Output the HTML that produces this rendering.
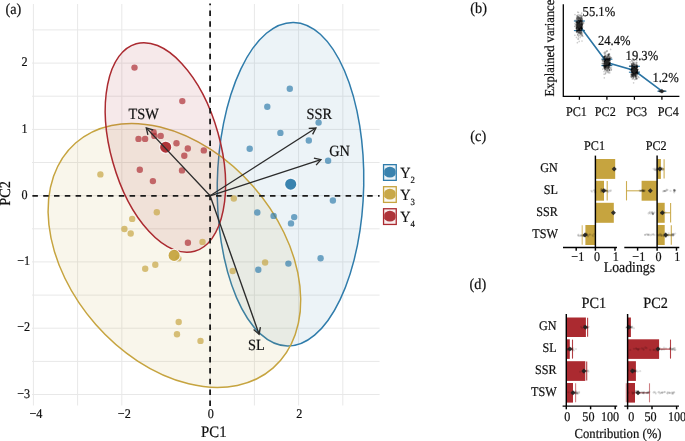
<!DOCTYPE html><html><head><meta charset="utf-8"><title>PCA figure</title><style>html,body{margin:0;padding:0;background:#fff;}svg{display:block;}text{font-family:"Liberation Serif", "DejaVu Serif", serif;fill:#111;stroke:#111;stroke-width:0.22px;text-rendering:geometricPrecision;}</style></head><body>
<svg width="685" height="441" viewBox="0 0 685 441">
<rect width="685" height="441" fill="#fff"/>
<g opacity="0.999">
<g stroke="#e8e8e8" stroke-width="1">
<line x1="33.4" y1="4.0" x2="33.4" y2="405.5"/>
<line x1="77.6" y1="4.0" x2="77.6" y2="405.5"/>
<line x1="121.8" y1="4.0" x2="121.8" y2="405.5"/>
<line x1="210.2" y1="4.0" x2="210.2" y2="405.5"/>
<line x1="254.4" y1="4.0" x2="254.4" y2="405.5"/>
<line x1="298.6" y1="4.0" x2="298.6" y2="405.5"/>
<line x1="342.8" y1="4.0" x2="342.8" y2="405.5"/>
<line x1="32.0" y1="394.5" x2="379.6" y2="394.5"/>
<line x1="32.0" y1="361.4" x2="379.6" y2="361.4"/>
<line x1="32.0" y1="328.2" x2="379.6" y2="328.2"/>
<line x1="32.0" y1="295.1" x2="379.6" y2="295.1"/>
<line x1="32.0" y1="261.9" x2="379.6" y2="261.9"/>
<line x1="32.0" y1="228.8" x2="379.6" y2="228.8"/>
<line x1="32.0" y1="195.7" x2="379.6" y2="195.7"/>
<line x1="32.0" y1="162.5" x2="379.6" y2="162.5"/>
<line x1="32.0" y1="129.4" x2="379.6" y2="129.4"/>
<line x1="32.0" y1="96.2" x2="379.6" y2="96.2"/>
<line x1="32.0" y1="63.1" x2="379.6" y2="63.1"/>
<line x1="32.0" y1="29.9" x2="379.6" y2="29.9"/>
</g>
<ellipse cx="290.5" cy="184.2" rx="161.82" ry="73.25" transform="rotate(91.10 290.5 184.2)" fill="#2f7cab" fill-opacity="0.09" stroke="#2f7cab" stroke-width="1.5"/>
<ellipse cx="174.4" cy="255.4" rx="149.70" ry="104.71" transform="rotate(48.69 174.4 255.4)" fill="#c6a43f" fill-opacity="0.1" stroke="#c6a43f" stroke-width="1.5"/>
<ellipse cx="165.4" cy="147.5" rx="107.83" ry="54.57" transform="rotate(74.29 165.4 147.5)" fill="#ab2a30" fill-opacity="0.1" stroke="#ab2a30" stroke-width="1.5"/>
<line x1="32.4" y1="195.86" x2="379.6" y2="195.86" stroke="#1a1a1a" stroke-width="1.8" stroke-dasharray="5.5 5.3"/>
<line x1="210.10" y1="405.9" x2="210.10" y2="3.5" stroke="#1a1a1a" stroke-width="1.8" stroke-dasharray="5.5 5.33"/>
<g fill="#2f7cab" fill-opacity="0.68">
<circle cx="289.8" cy="88.8" r="3.2"/>
<circle cx="267.3" cy="106.8" r="3.2"/>
<circle cx="280.4" cy="132.9" r="3.2"/>
<circle cx="249.7" cy="148.7" r="3.2"/>
<circle cx="318.6" cy="122.6" r="3.2"/>
<circle cx="308.8" cy="140.5" r="3.2"/>
<circle cx="328.1" cy="160.8" r="3.2"/>
<circle cx="332.9" cy="200.5" r="3.2"/>
<circle cx="257.3" cy="212.5" r="3.2"/>
<circle cx="273.6" cy="215.9" r="3.2"/>
<circle cx="294.2" cy="217.1" r="3.2"/>
<circle cx="291.0" cy="223.4" r="3.2"/>
<circle cx="320.6" cy="258.3" r="3.2"/>
<circle cx="288.4" cy="263.6" r="3.2"/>
<circle cx="258.3" cy="269.8" r="3.2"/>
</g>
<g fill="#c6a43f" fill-opacity="0.68">
<circle cx="233.8" cy="198.5" r="3.2"/>
<circle cx="265.1" cy="262.5" r="3.2"/>
<circle cx="232.7" cy="271" r="3.2"/>
<circle cx="202.5" cy="241.9" r="3.2"/>
<circle cx="100.4" cy="174.4" r="3.2"/>
<circle cx="156.8" cy="212.2" r="3.2"/>
<circle cx="132.2" cy="218.9" r="3.2"/>
<circle cx="124.4" cy="229" r="3.2"/>
<circle cx="130.7" cy="233.5" r="3.2"/>
<circle cx="178.4" cy="258.4" r="3.2"/>
<circle cx="155.3" cy="264.7" r="3.2"/>
<circle cx="145.2" cy="268.7" r="3.2"/>
<circle cx="178.7" cy="322" r="3.2"/>
<circle cx="177" cy="334.3" r="3.2"/>
<circle cx="200.5" cy="340.9" r="3.2"/>
</g>
<g fill="#ab2a30" fill-opacity="0.68">
<circle cx="134.5" cy="67.6" r="3.2"/>
<circle cx="182.3" cy="101.1" r="3.2"/>
<circle cx="138.5" cy="138.9" r="3.2"/>
<circle cx="145.1" cy="138.9" r="3.2"/>
<circle cx="153.6" cy="132.2" r="3.2"/>
<circle cx="154.4" cy="135.9" r="3.2"/>
<circle cx="160.7" cy="135.9" r="3.2"/>
<circle cx="176.5" cy="143.2" r="3.2"/>
<circle cx="187.8" cy="148.5" r="3.2"/>
<circle cx="184.3" cy="155.8" r="3.2"/>
<circle cx="139.8" cy="169.8" r="3.2"/>
<circle cx="182" cy="170.4" r="3.2"/>
<circle cx="152.9" cy="181.1" r="3.2"/>
<circle cx="203.8" cy="150.4" r="3.2"/>
<circle cx="187.9" cy="242.8" r="3.2"/>
</g>
<circle cx="290.7" cy="184.2" r="6.1" fill="#2f7cab" fill-opacity="0.94" stroke="#fff" stroke-opacity="0.9" stroke-width="1.1"/>
<circle cx="174.1" cy="255.4" r="6.1" fill="#c6a43f" fill-opacity="0.94" stroke="#fff" stroke-opacity="0.9" stroke-width="1.1"/>
<circle cx="165.7" cy="147.2" r="6.1" fill="#ab2a30" fill-opacity="0.94" stroke="#fff" stroke-opacity="0.9" stroke-width="1.1"/>
<line x1="210.1" y1="195.8" x2="315.9" y2="128.0" stroke="#2b2b2b" stroke-width="1.35"/>
<polyline points="312.6,134.4 315.9,128.0 308.7,128.3" fill="none" stroke="#2b2b2b" stroke-width="1.35" stroke-linejoin="miter"/>
<line x1="210.1" y1="195.8" x2="320.9" y2="159.7" stroke="#2b2b2b" stroke-width="1.35"/>
<polyline points="316.1,165.1 320.9,159.7 313.9,158.2" fill="none" stroke="#2b2b2b" stroke-width="1.35" stroke-linejoin="miter"/>
<line x1="210.1" y1="195.8" x2="259.1" y2="334.2" stroke="#2b2b2b" stroke-width="1.35"/>
<polyline points="253.6,329.5 259.1,334.2 260.4,327.1" fill="none" stroke="#2b2b2b" stroke-width="1.35" stroke-linejoin="miter"/>
<line x1="210.1" y1="195.8" x2="146.3" y2="127.9" stroke="#2b2b2b" stroke-width="1.35"/>
<polyline points="153.2,130.0 146.3,127.9 147.9,134.9" fill="none" stroke="#2b2b2b" stroke-width="1.35" stroke-linejoin="miter"/>
<text transform="translate(319.2 119.4) scale(0.92 1)" font-size="15.6px" text-anchor="middle">SSR</text>
<text transform="translate(339.5 155.5) scale(0.92 1)" font-size="15.6px" text-anchor="middle">GN</text>
<text transform="translate(256.3 349.6) scale(0.92 1)" font-size="15.6px" text-anchor="middle">SL</text>
<text transform="translate(143.7 118.9) scale(0.92 1)" font-size="15.6px" text-anchor="middle">TSW</text>
<text transform="translate(27.6 66.3) scale(0.92 1)" font-size="13.2px" text-anchor="end">2</text>
<text transform="translate(27.6 132.6) scale(0.92 1)" font-size="13.2px" text-anchor="end">1</text>
<text transform="translate(27.6 198.9) scale(0.92 1)" font-size="13.2px" text-anchor="end">0</text>
<text transform="translate(30.1 265.1) scale(0.92 1)" font-size="13.2px" text-anchor="end">−1</text>
<text transform="translate(30.1 331.4) scale(0.92 1)" font-size="13.2px" text-anchor="end">−2</text>
<text transform="translate(30.1 397.7) scale(0.92 1)" font-size="13.2px" text-anchor="end">−3</text>
<text transform="translate(35.9 417.8) scale(0.92 1)" font-size="13.2px" text-anchor="middle">−4</text>
<text transform="translate(124.3 417.8) scale(0.92 1)" font-size="13.2px" text-anchor="middle">−2</text>
<text transform="translate(210.8 417.8) scale(0.92 1)" font-size="13.2px" text-anchor="middle">0</text>
<text transform="translate(299.2 417.8) scale(0.92 1)" font-size="13.2px" text-anchor="middle">2</text>
<text transform="translate(213.8 437) scale(0.92 1)" font-size="16px" text-anchor="middle">PC1</text>
<text transform="translate(10.4 193.4) rotate(-90) scale(0.92 1)" font-size="15.5px" text-anchor="middle">PC2</text>
<text transform="translate(5.4 13.7) scale(0.92 1)" font-size="15.5px" text-anchor="start">(a)</text>
<text transform="translate(470.3 13.3) scale(0.92 1)" font-size="15.5px" text-anchor="start">(b)</text>
<text transform="translate(470.3 140.9) scale(0.92 1)" font-size="15.5px" text-anchor="start">(c)</text>
<text transform="translate(469.6 289.4) scale(0.92 1)" font-size="15.5px" text-anchor="start">(d)</text>
<clipPath id="lc0"><rect x="384.2" y="165.3" width="11.4" height="14.4"/></clipPath>
<rect x="383.55" y="164.65" width="12.7" height="15.7" fill="#2f7cab" fill-opacity="0.09"/>
<ellipse cx="389.9" cy="172.2" rx="6.3" ry="5.4" fill="#2f7cab" fill-opacity="0.95" clip-path="url(#lc0)"/>
<rect x="383.55" y="164.65" width="12.7" height="15.7" fill="none" stroke="#2f7cab" stroke-width="1.3"/>
<text transform="translate(400.2 177.7) scale(0.92 1)" font-size="15.5px" text-anchor="start">Y<tspan font-size="9.5px" dy="5">2</tspan></text>
<clipPath id="lc1"><rect x="384.2" y="187.4" width="11.4" height="14.4"/></clipPath>
<rect x="383.55" y="186.70" width="12.7" height="15.7" fill="#c6a43f" fill-opacity="0.09"/>
<ellipse cx="389.9" cy="194.2" rx="6.3" ry="5.4" fill="#c6a43f" fill-opacity="0.95" clip-path="url(#lc1)"/>
<rect x="383.55" y="186.70" width="12.7" height="15.7" fill="none" stroke="#c6a43f" stroke-width="1.3"/>
<text transform="translate(400.2 199.8) scale(0.92 1)" font-size="15.5px" text-anchor="start">Y<tspan font-size="9.5px" dy="5">3</tspan></text>
<clipPath id="lc2"><rect x="384.2" y="209.4" width="11.4" height="14.4"/></clipPath>
<rect x="383.55" y="208.75" width="12.7" height="15.7" fill="#ab2a30" fill-opacity="0.09"/>
<ellipse cx="389.9" cy="216.2" rx="6.3" ry="5.4" fill="#ab2a30" fill-opacity="0.95" clip-path="url(#lc2)"/>
<rect x="383.55" y="208.75" width="12.7" height="15.7" fill="none" stroke="#ab2a30" stroke-width="1.3"/>
<text transform="translate(400.2 221.8) scale(0.92 1)" font-size="15.5px" text-anchor="start">Y<tspan font-size="9.5px" dy="5">4</tspan></text>
<g stroke="#000" stroke-width="1.3" fill="none">
<path d="M563.3 4.2V96.3H679.4"/>
<line x1="579.4" y1="96.3" x2="579.4" y2="99.8"/>
<line x1="606.9" y1="96.3" x2="606.9" y2="99.8"/>
<line x1="634.4" y1="96.3" x2="634.4" y2="99.8"/>
<line x1="661.9" y1="96.3" x2="661.9" y2="99.8"/>
</g>
<polyline points="579.4,25.5 606.9,62.5 634.4,70.6 661.9,91.2" fill="none" stroke="#2b74a3" stroke-width="1.6"/>
<g stroke="#2b74a3" stroke-width="1.1">
<line x1="579.4" y1="21.0" x2="579.4" y2="30.6"/>
<line x1="573.9" y1="21.0" x2="584.9" y2="21.0"/><line x1="573.9" y1="30.6" x2="584.9" y2="30.6"/>
<line x1="606.9" y1="59.2" x2="606.9" y2="65.6"/>
<line x1="601.4" y1="59.2" x2="612.4" y2="59.2"/><line x1="601.4" y1="65.6" x2="612.4" y2="65.6"/>
<line x1="634.4" y1="66.3" x2="634.4" y2="72.2"/>
<line x1="628.9" y1="66.3" x2="639.9" y2="66.3"/><line x1="628.9" y1="72.2" x2="639.9" y2="72.2"/>
<line x1="661.9" y1="90.7" x2="661.9" y2="91.7"/>
<line x1="657.4" y1="91.2" x2="666.4" y2="91.2"/>
</g>
<g fill="#000" fill-opacity="0.2">
<circle cx="578.6" cy="25.6" r="0.85"/>
<circle cx="578.3" cy="27.5" r="0.85"/>
<circle cx="582.3" cy="35.6" r="0.85"/>
<circle cx="581.1" cy="29.6" r="0.85"/>
<circle cx="581.3" cy="15.2" r="0.85"/>
<circle cx="577.1" cy="31.0" r="0.85"/>
<circle cx="579.4" cy="26.6" r="0.85"/>
<circle cx="578.6" cy="18.1" r="0.85"/>
<circle cx="576.9" cy="29.0" r="0.85"/>
<circle cx="578.8" cy="19.9" r="0.85"/>
<circle cx="576.8" cy="26.3" r="0.85"/>
<circle cx="575.0" cy="26.6" r="0.85"/>
<circle cx="581.2" cy="25.1" r="0.85"/>
<circle cx="580.5" cy="28.5" r="0.85"/>
<circle cx="580.6" cy="20.8" r="0.85"/>
<circle cx="581.3" cy="27.5" r="0.85"/>
<circle cx="577.4" cy="23.0" r="0.85"/>
<circle cx="576.5" cy="24.7" r="0.85"/>
<circle cx="581.1" cy="34.3" r="0.85"/>
<circle cx="577.0" cy="26.0" r="0.85"/>
<circle cx="582.2" cy="20.5" r="0.85"/>
<circle cx="575.8" cy="25.0" r="0.85"/>
<circle cx="577.6" cy="15.1" r="0.85"/>
<circle cx="577.9" cy="25.6" r="0.85"/>
<circle cx="574.9" cy="26.2" r="0.85"/>
<circle cx="579.8" cy="25.9" r="0.85"/>
<circle cx="578.6" cy="25.9" r="0.85"/>
<circle cx="583.9" cy="23.0" r="0.85"/>
<circle cx="578.0" cy="27.6" r="0.85"/>
<circle cx="579.9" cy="30.4" r="0.85"/>
<circle cx="580.8" cy="22.6" r="0.85"/>
<circle cx="579.5" cy="25.2" r="0.85"/>
<circle cx="581.3" cy="25.8" r="0.85"/>
<circle cx="577.1" cy="31.3" r="0.85"/>
<circle cx="580.0" cy="30.5" r="0.85"/>
<circle cx="582.7" cy="22.1" r="0.85"/>
<circle cx="578.8" cy="20.7" r="0.85"/>
<circle cx="579.4" cy="18.6" r="0.85"/>
<circle cx="580.2" cy="21.1" r="0.85"/>
<circle cx="578.4" cy="25.6" r="0.85"/>
<circle cx="582.2" cy="28.4" r="0.85"/>
<circle cx="579.3" cy="29.9" r="0.85"/>
<circle cx="579.3" cy="24.1" r="0.85"/>
<circle cx="581.8" cy="21.3" r="0.85"/>
<circle cx="576.5" cy="27.3" r="0.85"/>
<circle cx="581.6" cy="24.7" r="0.85"/>
<circle cx="577.2" cy="27.5" r="0.85"/>
<circle cx="579.3" cy="26.2" r="0.85"/>
<circle cx="579.3" cy="28.8" r="0.85"/>
<circle cx="579.3" cy="22.9" r="0.85"/>
<circle cx="576.6" cy="29.4" r="0.85"/>
<circle cx="578.3" cy="23.4" r="0.85"/>
<circle cx="578.5" cy="30.1" r="0.85"/>
<circle cx="582.1" cy="23.2" r="0.85"/>
<circle cx="581.9" cy="25.9" r="0.85"/>
<circle cx="579.9" cy="21.1" r="0.85"/>
<circle cx="582.0" cy="24.7" r="0.85"/>
<circle cx="581.6" cy="16.2" r="0.85"/>
<circle cx="578.7" cy="32.4" r="0.85"/>
<circle cx="577.1" cy="30.1" r="0.85"/>
<circle cx="579.5" cy="30.7" r="0.85"/>
<circle cx="578.3" cy="26.4" r="0.85"/>
<circle cx="576.5" cy="27.1" r="0.85"/>
<circle cx="582.3" cy="24.4" r="0.85"/>
<circle cx="582.2" cy="22.3" r="0.85"/>
<circle cx="579.6" cy="32.5" r="0.85"/>
<circle cx="579.4" cy="23.8" r="0.85"/>
<circle cx="577.1" cy="23.3" r="0.85"/>
<circle cx="578.3" cy="23.5" r="0.85"/>
<circle cx="579.2" cy="41.4" r="0.85"/>
<circle cx="579.5" cy="32.7" r="0.85"/>
<circle cx="577.8" cy="23.8" r="0.85"/>
<circle cx="577.9" cy="25.3" r="0.85"/>
<circle cx="579.5" cy="28.9" r="0.85"/>
<circle cx="577.8" cy="29.5" r="0.85"/>
<circle cx="576.6" cy="18.1" r="0.85"/>
<circle cx="578.6" cy="29.7" r="0.85"/>
<circle cx="580.9" cy="24.5" r="0.85"/>
<circle cx="578.1" cy="22.3" r="0.85"/>
<circle cx="581.6" cy="23.7" r="0.85"/>
<circle cx="580.6" cy="29.1" r="0.85"/>
<circle cx="580.3" cy="33.6" r="0.85"/>
<circle cx="581.8" cy="21.1" r="0.85"/>
<circle cx="580.4" cy="28.1" r="0.85"/>
<circle cx="579.9" cy="21.8" r="0.85"/>
<circle cx="581.9" cy="27.8" r="0.85"/>
<circle cx="581.8" cy="27.4" r="0.85"/>
<circle cx="577.6" cy="18.7" r="0.85"/>
<circle cx="578.9" cy="23.1" r="0.85"/>
<circle cx="576.5" cy="29.1" r="0.85"/>
<circle cx="579.1" cy="17.4" r="0.85"/>
<circle cx="579.1" cy="23.8" r="0.85"/>
<circle cx="578.2" cy="28.3" r="0.85"/>
<circle cx="580.1" cy="17.7" r="0.85"/>
<circle cx="581.9" cy="23.7" r="0.85"/>
<circle cx="579.0" cy="25.8" r="0.85"/>
<circle cx="581.1" cy="29.6" r="0.85"/>
<circle cx="578.0" cy="19.6" r="0.85"/>
<circle cx="576.4" cy="30.6" r="0.85"/>
<circle cx="576.6" cy="26.9" r="0.85"/>
<circle cx="579.0" cy="31.0" r="0.85"/>
<circle cx="579.5" cy="30.9" r="0.85"/>
<circle cx="581.1" cy="32.5" r="0.85"/>
<circle cx="578.7" cy="27.7" r="0.85"/>
<circle cx="577.0" cy="15.8" r="0.85"/>
<circle cx="580.4" cy="19.3" r="0.85"/>
<circle cx="581.3" cy="20.9" r="0.85"/>
<circle cx="579.4" cy="23.9" r="0.85"/>
<circle cx="579.4" cy="29.8" r="0.85"/>
<circle cx="577.7" cy="17.3" r="0.85"/>
<circle cx="578.2" cy="24.0" r="0.85"/>
<circle cx="577.1" cy="19.4" r="0.85"/>
<circle cx="581.1" cy="18.3" r="0.85"/>
<circle cx="578.1" cy="32.3" r="0.85"/>
<circle cx="577.9" cy="26.0" r="0.85"/>
<circle cx="578.9" cy="33.0" r="0.85"/>
<circle cx="577.3" cy="30.9" r="0.85"/>
<circle cx="580.6" cy="21.4" r="0.85"/>
<circle cx="580.8" cy="17.0" r="0.85"/>
<circle cx="581.7" cy="34.3" r="0.85"/>
<circle cx="577.2" cy="23.6" r="0.85"/>
<circle cx="581.1" cy="26.3" r="0.85"/>
<circle cx="581.6" cy="28.7" r="0.85"/>
<circle cx="577.7" cy="26.1" r="0.85"/>
<circle cx="579.4" cy="22.4" r="0.85"/>
<circle cx="580.1" cy="15.2" r="0.85"/>
<circle cx="577.9" cy="26.2" r="0.85"/>
<circle cx="575.6" cy="24.6" r="0.85"/>
<circle cx="580.9" cy="29.0" r="0.85"/>
<circle cx="581.5" cy="23.9" r="0.85"/>
<circle cx="579.1" cy="17.7" r="0.85"/>
<circle cx="580.0" cy="28.3" r="0.85"/>
<circle cx="582.7" cy="26.9" r="0.85"/>
<circle cx="578.3" cy="30.5" r="0.85"/>
<circle cx="580.8" cy="26.5" r="0.85"/>
<circle cx="582.2" cy="25.0" r="0.85"/>
<circle cx="575.2" cy="20.2" r="0.85"/>
<circle cx="576.7" cy="32.4" r="0.85"/>
<circle cx="576.8" cy="22.4" r="0.85"/>
<circle cx="581.4" cy="26.4" r="0.85"/>
<circle cx="581.2" cy="21.4" r="0.85"/>
<circle cx="577.7" cy="27.1" r="0.85"/>
<circle cx="579.3" cy="27.6" r="0.85"/>
<circle cx="579.5" cy="18.0" r="0.85"/>
<circle cx="579.8" cy="24.5" r="0.85"/>
<circle cx="577.4" cy="17.4" r="0.85"/>
<circle cx="576.5" cy="32.0" r="0.85"/>
<circle cx="579.4" cy="29.6" r="0.85"/>
<circle cx="578.5" cy="18.2" r="0.85"/>
<circle cx="578.2" cy="22.3" r="0.85"/>
<circle cx="581.0" cy="31.5" r="0.85"/>
<circle cx="580.5" cy="33.9" r="0.85"/>
<circle cx="576.9" cy="29.5" r="0.85"/>
<circle cx="579.7" cy="25.0" r="0.85"/>
<circle cx="581.2" cy="24.8" r="0.85"/>
<circle cx="581.9" cy="33.0" r="0.85"/>
<circle cx="576.4" cy="22.1" r="0.85"/>
<circle cx="582.5" cy="24.0" r="0.85"/>
<circle cx="580.1" cy="21.1" r="0.85"/>
<circle cx="580.5" cy="20.1" r="0.85"/>
<circle cx="580.0" cy="31.0" r="0.85"/>
<circle cx="582.0" cy="28.4" r="0.85"/>
<circle cx="580.4" cy="27.6" r="0.85"/>
<circle cx="576.8" cy="28.2" r="0.85"/>
<circle cx="581.0" cy="28.4" r="0.85"/>
<circle cx="582.9" cy="36.3" r="0.85"/>
<circle cx="581.4" cy="25.5" r="0.85"/>
<circle cx="577.8" cy="23.9" r="0.85"/>
<circle cx="578.3" cy="20.8" r="0.85"/>
<circle cx="580.5" cy="30.5" r="0.85"/>
<circle cx="577.3" cy="23.1" r="0.85"/>
<circle cx="580.3" cy="20.9" r="0.85"/>
<circle cx="577.7" cy="24.3" r="0.85"/>
<circle cx="580.8" cy="25.6" r="0.85"/>
<circle cx="581.7" cy="29.3" r="0.85"/>
<circle cx="578.9" cy="30.1" r="0.85"/>
<circle cx="577.3" cy="22.1" r="0.85"/>
<circle cx="578.0" cy="21.8" r="0.85"/>
<circle cx="578.7" cy="24.0" r="0.85"/>
<circle cx="576.7" cy="19.9" r="0.85"/>
<circle cx="580.7" cy="25.0" r="0.85"/>
<circle cx="576.8" cy="27.6" r="0.85"/>
<circle cx="576.7" cy="25.7" r="0.85"/>
<circle cx="582.0" cy="18.1" r="0.85"/>
<circle cx="581.2" cy="20.0" r="0.85"/>
<circle cx="577.9" cy="31.4" r="0.85"/>
<circle cx="578.5" cy="20.8" r="0.85"/>
<circle cx="581.4" cy="26.6" r="0.85"/>
<circle cx="576.1" cy="28.4" r="0.85"/>
<circle cx="580.0" cy="24.0" r="0.85"/>
<circle cx="579.1" cy="20.9" r="0.85"/>
<circle cx="581.5" cy="26.5" r="0.85"/>
<circle cx="576.4" cy="21.4" r="0.85"/>
<circle cx="582.4" cy="24.7" r="0.85"/>
<circle cx="579.8" cy="26.0" r="0.85"/>
<circle cx="577.5" cy="22.2" r="0.85"/>
<circle cx="576.7" cy="24.5" r="0.85"/>
<circle cx="576.9" cy="22.8" r="0.85"/>
<circle cx="578.9" cy="19.8" r="0.85"/>
<circle cx="579.8" cy="24.6" r="0.85"/>
<circle cx="581.1" cy="22.6" r="0.85"/>
<circle cx="581.7" cy="17.1" r="0.85"/>
<circle cx="580.6" cy="23.9" r="0.85"/>
<circle cx="578.7" cy="24.2" r="0.85"/>
<circle cx="577.3" cy="22.6" r="0.85"/>
<circle cx="576.8" cy="16.0" r="0.85"/>
<circle cx="579.8" cy="30.5" r="0.85"/>
<circle cx="577.5" cy="28.6" r="0.85"/>
<circle cx="579.7" cy="28.5" r="0.85"/>
<circle cx="581.3" cy="27.0" r="0.85"/>
<circle cx="579.8" cy="18.8" r="0.85"/>
<circle cx="579.7" cy="26.1" r="0.85"/>
<circle cx="578.4" cy="21.2" r="0.85"/>
<circle cx="578.9" cy="35.6" r="0.85"/>
<circle cx="578.7" cy="23.1" r="0.85"/>
<circle cx="581.7" cy="28.6" r="0.85"/>
<circle cx="577.4" cy="18.4" r="0.85"/>
<circle cx="580.9" cy="20.1" r="0.85"/>
<circle cx="578.1" cy="23.0" r="0.85"/>
<circle cx="578.5" cy="28.7" r="0.85"/>
<circle cx="578.7" cy="28.0" r="0.85"/>
<circle cx="577.3" cy="26.8" r="0.85"/>
<circle cx="580.2" cy="17.0" r="0.85"/>
<circle cx="578.8" cy="30.9" r="0.85"/>
<circle cx="581.8" cy="21.9" r="0.85"/>
<circle cx="581.3" cy="32.9" r="0.85"/>
<circle cx="577.8" cy="34.1" r="0.85"/>
<circle cx="577.9" cy="29.3" r="0.85"/>
<circle cx="581.1" cy="30.0" r="0.85"/>
<circle cx="579.1" cy="19.7" r="0.85"/>
<circle cx="576.5" cy="37.4" r="0.85"/>
<circle cx="580.2" cy="22.1" r="0.85"/>
<circle cx="578.0" cy="30.1" r="0.85"/>
<circle cx="581.1" cy="21.6" r="0.85"/>
<circle cx="579.6" cy="25.2" r="0.85"/>
<circle cx="581.9" cy="20.0" r="0.85"/>
<circle cx="580.6" cy="24.4" r="0.85"/>
<circle cx="581.9" cy="25.6" r="0.85"/>
<circle cx="578.1" cy="26.7" r="0.85"/>
<circle cx="578.4" cy="31.9" r="0.85"/>
<circle cx="580.5" cy="27.7" r="0.85"/>
<circle cx="581.6" cy="26.6" r="0.85"/>
<circle cx="581.1" cy="23.6" r="0.85"/>
<circle cx="581.9" cy="34.7" r="0.85"/>
<circle cx="579.5" cy="22.8" r="0.85"/>
<circle cx="581.3" cy="31.0" r="0.85"/>
<circle cx="578.7" cy="16.5" r="0.85"/>
<circle cx="576.9" cy="22.0" r="0.85"/>
<circle cx="578.7" cy="27.4" r="0.85"/>
<circle cx="576.7" cy="27.8" r="0.85"/>
<circle cx="578.5" cy="38.9" r="0.85"/>
<circle cx="580.2" cy="37.4" r="0.85"/>
<circle cx="576.7" cy="18.5" r="0.85"/>
<circle cx="582.3" cy="21.4" r="0.85"/>
<circle cx="579.6" cy="24.8" r="0.85"/>
<circle cx="580.0" cy="33.5" r="0.85"/>
<circle cx="581.4" cy="30.7" r="0.85"/>
<circle cx="579.5" cy="24.9" r="0.85"/>
<circle cx="578.3" cy="19.0" r="0.85"/>
<circle cx="582.0" cy="18.6" r="0.85"/>
<circle cx="581.6" cy="13.2" r="0.85"/>
<circle cx="580.8" cy="18.4" r="0.85"/>
<circle cx="576.9" cy="27.5" r="0.85"/>
<circle cx="579.6" cy="29.1" r="0.85"/>
<circle cx="580.3" cy="19.5" r="0.85"/>
<circle cx="577.7" cy="26.0" r="0.85"/>
<circle cx="582.5" cy="33.0" r="0.85"/>
<circle cx="579.7" cy="26.3" r="0.85"/>
<circle cx="582.4" cy="24.1" r="0.85"/>
<circle cx="577.3" cy="28.3" r="0.85"/>
<circle cx="578.9" cy="27.9" r="0.85"/>
<circle cx="582.4" cy="19.2" r="0.85"/>
<circle cx="578.3" cy="23.1" r="0.85"/>
<circle cx="583.1" cy="23.6" r="0.85"/>
<circle cx="577.6" cy="25.9" r="0.85"/>
<circle cx="579.2" cy="23.0" r="0.85"/>
<circle cx="579.5" cy="31.7" r="0.85"/>
<circle cx="578.3" cy="29.6" r="0.85"/>
<circle cx="580.7" cy="30.5" r="0.85"/>
<circle cx="577.9" cy="34.9" r="0.85"/>
<circle cx="580.6" cy="32.8" r="0.85"/>
<circle cx="577.4" cy="32.0" r="0.85"/>
<circle cx="581.7" cy="27.2" r="0.85"/>
<circle cx="578.4" cy="24.6" r="0.85"/>
<circle cx="581.1" cy="36.1" r="0.85"/>
<circle cx="579.5" cy="22.4" r="0.85"/>
<circle cx="578.0" cy="22.7" r="0.85"/>
<circle cx="577.4" cy="21.5" r="0.85"/>
<circle cx="581.0" cy="26.5" r="0.85"/>
<circle cx="580.2" cy="27.4" r="0.85"/>
<circle cx="576.8" cy="30.3" r="0.85"/>
<circle cx="579.9" cy="24.5" r="0.85"/>
<circle cx="576.7" cy="17.5" r="0.85"/>
<circle cx="578.7" cy="32.7" r="0.85"/>
<circle cx="578.6" cy="30.0" r="0.85"/>
<circle cx="580.3" cy="25.7" r="0.85"/>
<circle cx="577.3" cy="24.9" r="0.85"/>
<circle cx="576.7" cy="28.1" r="0.85"/>
<circle cx="579.9" cy="32.1" r="0.85"/>
<circle cx="581.3" cy="25.2" r="0.85"/>
<circle cx="577.0" cy="19.0" r="0.85"/>
<circle cx="578.6" cy="22.9" r="0.85"/>
<circle cx="579.9" cy="24.8" r="0.85"/>
<circle cx="578.5" cy="17.2" r="0.85"/>
<circle cx="581.6" cy="29.1" r="0.85"/>
<circle cx="579.3" cy="22.0" r="0.85"/>
<circle cx="581.7" cy="27.9" r="0.85"/>
<circle cx="579.8" cy="26.4" r="0.85"/>
<circle cx="580.4" cy="24.1" r="0.85"/>
<circle cx="578.2" cy="33.0" r="0.85"/>
<circle cx="580.8" cy="22.9" r="0.85"/>
<circle cx="583.1" cy="22.4" r="0.85"/>
<circle cx="579.9" cy="26.9" r="0.85"/>
<circle cx="578.9" cy="29.4" r="0.85"/>
<circle cx="577.2" cy="25.5" r="0.85"/>
<circle cx="579.4" cy="21.0" r="0.85"/>
<circle cx="579.0" cy="28.7" r="0.85"/>
<circle cx="579.0" cy="28.3" r="0.85"/>
<circle cx="577.5" cy="35.0" r="0.85"/>
<circle cx="577.7" cy="21.1" r="0.85"/>
<circle cx="580.4" cy="19.8" r="0.85"/>
<circle cx="580.2" cy="22.9" r="0.85"/>
<circle cx="580.9" cy="18.7" r="0.85"/>
<circle cx="579.5" cy="25.8" r="0.85"/>
<circle cx="581.5" cy="28.7" r="0.85"/>
<circle cx="579.8" cy="20.8" r="0.85"/>
<circle cx="581.7" cy="22.4" r="0.85"/>
<circle cx="578.9" cy="20.1" r="0.85"/>
<circle cx="576.7" cy="31.7" r="0.85"/>
<circle cx="577.6" cy="22.6" r="0.85"/>
<circle cx="576.3" cy="28.2" r="0.85"/>
<circle cx="582.0" cy="19.3" r="0.85"/>
<circle cx="578.6" cy="25.8" r="0.85"/>
<circle cx="581.1" cy="22.6" r="0.85"/>
<circle cx="580.1" cy="15.7" r="0.85"/>
<circle cx="576.8" cy="25.9" r="0.85"/>
<circle cx="581.0" cy="27.9" r="0.85"/>
<circle cx="582.3" cy="15.9" r="0.85"/>
<circle cx="582.0" cy="24.7" r="0.85"/>
<circle cx="579.1" cy="23.5" r="0.85"/>
<circle cx="578.9" cy="20.5" r="0.85"/>
<circle cx="576.8" cy="24.3" r="0.85"/>
<circle cx="578.0" cy="16.6" r="0.85"/>
<circle cx="580.2" cy="26.7" r="0.85"/>
<circle cx="581.9" cy="31.0" r="0.85"/>
<circle cx="580.6" cy="20.7" r="0.85"/>
<circle cx="582.0" cy="25.2" r="0.85"/>
<circle cx="581.0" cy="32.1" r="0.85"/>
<circle cx="580.5" cy="26.1" r="0.85"/>
<circle cx="577.2" cy="23.1" r="0.85"/>
<circle cx="576.7" cy="25.9" r="0.85"/>
<circle cx="580.8" cy="26.3" r="0.85"/>
<circle cx="580.2" cy="24.9" r="0.85"/>
<circle cx="579.5" cy="28.4" r="0.85"/>
<circle cx="578.5" cy="12.5" r="0.85"/>
<circle cx="576.6" cy="31.4" r="0.85"/>
<circle cx="574.9" cy="23.6" r="0.85"/>
<circle cx="581.4" cy="28.5" r="0.85"/>
<circle cx="575.9" cy="22.2" r="0.85"/>
<circle cx="581.3" cy="19.5" r="0.85"/>
<circle cx="579.2" cy="22.9" r="0.85"/>
<circle cx="581.5" cy="21.1" r="0.85"/>
<circle cx="576.6" cy="23.8" r="0.85"/>
<circle cx="580.4" cy="28.5" r="0.85"/>
<circle cx="578.1" cy="30.5" r="0.85"/>
<circle cx="578.8" cy="26.4" r="0.85"/>
<circle cx="581.6" cy="23.0" r="0.85"/>
<circle cx="578.9" cy="23.4" r="0.85"/>
<circle cx="581.8" cy="28.2" r="0.85"/>
<circle cx="580.0" cy="33.1" r="0.85"/>
<circle cx="578.2" cy="24.0" r="0.85"/>
<circle cx="578.0" cy="24.9" r="0.85"/>
<circle cx="576.4" cy="22.0" r="0.85"/>
<circle cx="579.8" cy="26.5" r="0.85"/>
<circle cx="581.4" cy="29.9" r="0.85"/>
<circle cx="577.7" cy="12.1" r="0.85"/>
<circle cx="579.3" cy="26.7" r="0.85"/>
<circle cx="578.8" cy="23.0" r="0.85"/>
<circle cx="578.8" cy="14.8" r="0.85"/>
<circle cx="582.0" cy="26.9" r="0.85"/>
<circle cx="581.4" cy="25.1" r="0.85"/>
<circle cx="579.4" cy="27.2" r="0.85"/>
<circle cx="580.2" cy="19.2" r="0.85"/>
<circle cx="574.9" cy="35.3" r="0.85"/>
<circle cx="579.5" cy="26.0" r="0.85"/>
<circle cx="581.0" cy="23.9" r="0.85"/>
<circle cx="579.5" cy="32.5" r="0.85"/>
<circle cx="576.7" cy="28.5" r="0.85"/>
<circle cx="582.3" cy="35.3" r="0.85"/>
<circle cx="577.4" cy="30.9" r="0.85"/>
<circle cx="577.8" cy="17.2" r="0.85"/>
<circle cx="581.2" cy="33.2" r="0.85"/>
<circle cx="579.2" cy="28.1" r="0.85"/>
<circle cx="579.6" cy="26.8" r="0.85"/>
<circle cx="578.3" cy="29.7" r="0.85"/>
<circle cx="577.0" cy="22.2" r="0.85"/>
<circle cx="579.7" cy="27.0" r="0.85"/>
<circle cx="580.9" cy="20.2" r="0.85"/>
<circle cx="577.5" cy="25.3" r="0.85"/>
<circle cx="581.0" cy="32.2" r="0.85"/>
<circle cx="581.4" cy="18.1" r="0.85"/>
<circle cx="582.2" cy="20.0" r="0.85"/>
<circle cx="578.0" cy="20.2" r="0.85"/>
<circle cx="578.8" cy="27.2" r="0.85"/>
<circle cx="577.4" cy="42.7" r="0.85"/>
<circle cx="577.3" cy="26.7" r="0.85"/>
<circle cx="577.5" cy="24.8" r="0.85"/>
<circle cx="578.4" cy="25.2" r="0.85"/>
<circle cx="578.0" cy="30.0" r="0.85"/>
<circle cx="579.3" cy="28.8" r="0.85"/>
<circle cx="577.1" cy="20.2" r="0.85"/>
<circle cx="583.9" cy="30.2" r="0.85"/>
<circle cx="578.3" cy="25.4" r="0.85"/>
<circle cx="580.0" cy="29.3" r="0.85"/>
<circle cx="577.7" cy="16.3" r="0.85"/>
<circle cx="578.3" cy="18.3" r="0.85"/>
<circle cx="580.2" cy="28.2" r="0.85"/>
<circle cx="581.5" cy="17.2" r="0.85"/>
<circle cx="579.1" cy="27.3" r="0.85"/>
<circle cx="579.3" cy="27.1" r="0.85"/>
<circle cx="581.3" cy="26.2" r="0.85"/>
<circle cx="579.2" cy="27.1" r="0.85"/>
<circle cx="581.5" cy="26.9" r="0.85"/>
<circle cx="577.3" cy="27.6" r="0.85"/>
<circle cx="582.4" cy="23.6" r="0.85"/>
<circle cx="581.7" cy="25.4" r="0.85"/>
<circle cx="577.9" cy="39.0" r="0.85"/>
<circle cx="577.6" cy="30.7" r="0.85"/>
<circle cx="577.9" cy="28.3" r="0.85"/>
<circle cx="580.4" cy="27.3" r="0.85"/>
<circle cx="577.0" cy="22.2" r="0.85"/>
<circle cx="579.2" cy="18.6" r="0.85"/>
<circle cx="577.8" cy="24.4" r="0.85"/>
<circle cx="579.7" cy="29.9" r="0.85"/>
<circle cx="577.2" cy="21.3" r="0.85"/>
<circle cx="575.0" cy="14.6" r="0.85"/>
<circle cx="576.4" cy="22.9" r="0.85"/>
<circle cx="578.3" cy="28.7" r="0.85"/>
<circle cx="578.5" cy="36.8" r="0.85"/>
<circle cx="580.0" cy="30.2" r="0.85"/>
<circle cx="580.8" cy="21.0" r="0.85"/>
<circle cx="576.7" cy="24.5" r="0.85"/>
<circle cx="580.4" cy="21.1" r="0.85"/>
<circle cx="581.3" cy="24.6" r="0.85"/>
<circle cx="579.7" cy="21.4" r="0.85"/>
<circle cx="579.8" cy="17.9" r="0.85"/>
<circle cx="581.3" cy="27.5" r="0.85"/>
<circle cx="579.7" cy="26.4" r="0.85"/>
<circle cx="577.5" cy="24.7" r="0.85"/>
<circle cx="578.1" cy="27.1" r="0.85"/>
<circle cx="580.0" cy="34.9" r="0.85"/>
<circle cx="579.7" cy="26.0" r="0.85"/>
<circle cx="581.2" cy="23.8" r="0.85"/>
<circle cx="580.7" cy="29.5" r="0.85"/>
<circle cx="581.1" cy="17.9" r="0.85"/>
<circle cx="578.8" cy="29.0" r="0.85"/>
<circle cx="581.1" cy="21.9" r="0.85"/>
<circle cx="579.1" cy="21.7" r="0.85"/>
<circle cx="577.8" cy="26.0" r="0.85"/>
<circle cx="582.0" cy="41.0" r="0.85"/>
<circle cx="606.2" cy="61.8" r="0.85"/>
<circle cx="605.3" cy="60.7" r="0.85"/>
<circle cx="609.5" cy="69.9" r="0.85"/>
<circle cx="604.7" cy="66.1" r="0.85"/>
<circle cx="607.8" cy="58.6" r="0.85"/>
<circle cx="608.8" cy="66.6" r="0.85"/>
<circle cx="606.6" cy="66.0" r="0.85"/>
<circle cx="609.6" cy="54.0" r="0.85"/>
<circle cx="606.1" cy="59.8" r="0.85"/>
<circle cx="608.6" cy="66.8" r="0.85"/>
<circle cx="605.2" cy="66.4" r="0.85"/>
<circle cx="606.8" cy="57.3" r="0.85"/>
<circle cx="604.7" cy="62.5" r="0.85"/>
<circle cx="605.4" cy="66.3" r="0.85"/>
<circle cx="608.9" cy="64.0" r="0.85"/>
<circle cx="609.5" cy="58.1" r="0.85"/>
<circle cx="605.6" cy="61.8" r="0.85"/>
<circle cx="606.9" cy="65.4" r="0.85"/>
<circle cx="606.7" cy="64.6" r="0.85"/>
<circle cx="606.3" cy="58.5" r="0.85"/>
<circle cx="607.5" cy="72.5" r="0.85"/>
<circle cx="604.9" cy="63.5" r="0.85"/>
<circle cx="609.8" cy="56.2" r="0.85"/>
<circle cx="605.0" cy="61.2" r="0.85"/>
<circle cx="606.9" cy="51.0" r="0.85"/>
<circle cx="606.3" cy="59.7" r="0.85"/>
<circle cx="605.7" cy="62.4" r="0.85"/>
<circle cx="608.7" cy="72.8" r="0.85"/>
<circle cx="606.5" cy="63.4" r="0.85"/>
<circle cx="609.0" cy="64.2" r="0.85"/>
<circle cx="608.8" cy="65.8" r="0.85"/>
<circle cx="606.5" cy="63.5" r="0.85"/>
<circle cx="606.6" cy="65.7" r="0.85"/>
<circle cx="610.5" cy="68.4" r="0.85"/>
<circle cx="610.2" cy="64.8" r="0.85"/>
<circle cx="605.4" cy="69.2" r="0.85"/>
<circle cx="605.4" cy="67.0" r="0.85"/>
<circle cx="609.0" cy="58.7" r="0.85"/>
<circle cx="607.5" cy="60.7" r="0.85"/>
<circle cx="605.5" cy="60.9" r="0.85"/>
<circle cx="604.9" cy="68.0" r="0.85"/>
<circle cx="609.5" cy="64.5" r="0.85"/>
<circle cx="606.1" cy="61.9" r="0.85"/>
<circle cx="604.9" cy="59.3" r="0.85"/>
<circle cx="608.2" cy="68.9" r="0.85"/>
<circle cx="606.8" cy="68.4" r="0.85"/>
<circle cx="607.5" cy="62.8" r="0.85"/>
<circle cx="606.6" cy="58.2" r="0.85"/>
<circle cx="607.3" cy="60.1" r="0.85"/>
<circle cx="603.3" cy="59.0" r="0.85"/>
<circle cx="609.1" cy="58.9" r="0.85"/>
<circle cx="609.8" cy="58.6" r="0.85"/>
<circle cx="607.0" cy="58.8" r="0.85"/>
<circle cx="606.3" cy="63.9" r="0.85"/>
<circle cx="608.6" cy="64.5" r="0.85"/>
<circle cx="604.9" cy="58.8" r="0.85"/>
<circle cx="604.3" cy="63.9" r="0.85"/>
<circle cx="606.9" cy="71.1" r="0.85"/>
<circle cx="609.7" cy="63.7" r="0.85"/>
<circle cx="607.7" cy="61.0" r="0.85"/>
<circle cx="604.1" cy="74.2" r="0.85"/>
<circle cx="602.4" cy="64.0" r="0.85"/>
<circle cx="607.9" cy="60.1" r="0.85"/>
<circle cx="605.9" cy="66.4" r="0.85"/>
<circle cx="607.9" cy="59.7" r="0.85"/>
<circle cx="609.8" cy="61.2" r="0.85"/>
<circle cx="605.4" cy="66.9" r="0.85"/>
<circle cx="609.6" cy="60.1" r="0.85"/>
<circle cx="609.7" cy="56.5" r="0.85"/>
<circle cx="603.0" cy="65.7" r="0.85"/>
<circle cx="606.8" cy="70.2" r="0.85"/>
<circle cx="606.6" cy="56.9" r="0.85"/>
<circle cx="606.1" cy="61.2" r="0.85"/>
<circle cx="608.6" cy="67.3" r="0.85"/>
<circle cx="604.8" cy="63.8" r="0.85"/>
<circle cx="608.6" cy="66.2" r="0.85"/>
<circle cx="607.2" cy="62.2" r="0.85"/>
<circle cx="606.6" cy="60.1" r="0.85"/>
<circle cx="609.4" cy="60.4" r="0.85"/>
<circle cx="606.8" cy="61.5" r="0.85"/>
<circle cx="607.5" cy="63.5" r="0.85"/>
<circle cx="606.5" cy="51.4" r="0.85"/>
<circle cx="607.2" cy="54.7" r="0.85"/>
<circle cx="605.6" cy="62.8" r="0.85"/>
<circle cx="604.9" cy="65.6" r="0.85"/>
<circle cx="607.3" cy="61.7" r="0.85"/>
<circle cx="606.5" cy="62.8" r="0.85"/>
<circle cx="605.5" cy="58.3" r="0.85"/>
<circle cx="609.1" cy="57.0" r="0.85"/>
<circle cx="604.2" cy="63.5" r="0.85"/>
<circle cx="608.5" cy="62.5" r="0.85"/>
<circle cx="604.4" cy="65.7" r="0.85"/>
<circle cx="610.5" cy="57.3" r="0.85"/>
<circle cx="607.3" cy="63.1" r="0.85"/>
<circle cx="610.1" cy="62.5" r="0.85"/>
<circle cx="608.1" cy="61.7" r="0.85"/>
<circle cx="604.7" cy="62.3" r="0.85"/>
<circle cx="605.4" cy="61.2" r="0.85"/>
<circle cx="607.3" cy="65.0" r="0.85"/>
<circle cx="607.7" cy="64.4" r="0.85"/>
<circle cx="609.4" cy="70.2" r="0.85"/>
<circle cx="607.6" cy="70.2" r="0.85"/>
<circle cx="606.7" cy="62.6" r="0.85"/>
<circle cx="611.4" cy="57.6" r="0.85"/>
<circle cx="610.6" cy="65.4" r="0.85"/>
<circle cx="604.6" cy="61.3" r="0.85"/>
<circle cx="605.3" cy="69.1" r="0.85"/>
<circle cx="604.5" cy="56.5" r="0.85"/>
<circle cx="605.6" cy="60.9" r="0.85"/>
<circle cx="602.8" cy="69.1" r="0.85"/>
<circle cx="608.5" cy="62.9" r="0.85"/>
<circle cx="606.8" cy="65.7" r="0.85"/>
<circle cx="603.5" cy="65.4" r="0.85"/>
<circle cx="604.8" cy="60.6" r="0.85"/>
<circle cx="605.8" cy="66.2" r="0.85"/>
<circle cx="607.5" cy="59.0" r="0.85"/>
<circle cx="606.6" cy="61.3" r="0.85"/>
<circle cx="607.8" cy="71.5" r="0.85"/>
<circle cx="607.4" cy="61.8" r="0.85"/>
<circle cx="608.2" cy="64.2" r="0.85"/>
<circle cx="606.2" cy="58.2" r="0.85"/>
<circle cx="607.4" cy="68.3" r="0.85"/>
<circle cx="606.1" cy="58.8" r="0.85"/>
<circle cx="608.2" cy="59.5" r="0.85"/>
<circle cx="604.1" cy="60.1" r="0.85"/>
<circle cx="609.8" cy="58.7" r="0.85"/>
<circle cx="608.0" cy="56.7" r="0.85"/>
<circle cx="603.5" cy="61.4" r="0.85"/>
<circle cx="605.9" cy="59.8" r="0.85"/>
<circle cx="606.9" cy="62.2" r="0.85"/>
<circle cx="605.3" cy="58.5" r="0.85"/>
<circle cx="608.5" cy="58.8" r="0.85"/>
<circle cx="608.4" cy="61.3" r="0.85"/>
<circle cx="607.7" cy="62.6" r="0.85"/>
<circle cx="606.5" cy="58.7" r="0.85"/>
<circle cx="608.2" cy="62.4" r="0.85"/>
<circle cx="604.9" cy="61.6" r="0.85"/>
<circle cx="605.5" cy="67.0" r="0.85"/>
<circle cx="606.8" cy="65.2" r="0.85"/>
<circle cx="605.8" cy="64.7" r="0.85"/>
<circle cx="606.3" cy="66.8" r="0.85"/>
<circle cx="606.7" cy="59.9" r="0.85"/>
<circle cx="608.5" cy="68.2" r="0.85"/>
<circle cx="607.2" cy="63.3" r="0.85"/>
<circle cx="608.9" cy="60.5" r="0.85"/>
<circle cx="609.3" cy="64.2" r="0.85"/>
<circle cx="611.0" cy="58.1" r="0.85"/>
<circle cx="609.8" cy="64.2" r="0.85"/>
<circle cx="606.0" cy="63.6" r="0.85"/>
<circle cx="602.4" cy="56.3" r="0.85"/>
<circle cx="604.0" cy="57.9" r="0.85"/>
<circle cx="607.0" cy="60.4" r="0.85"/>
<circle cx="605.9" cy="60.2" r="0.85"/>
<circle cx="605.6" cy="59.8" r="0.85"/>
<circle cx="609.5" cy="66.2" r="0.85"/>
<circle cx="604.8" cy="66.8" r="0.85"/>
<circle cx="609.6" cy="64.8" r="0.85"/>
<circle cx="608.6" cy="55.2" r="0.85"/>
<circle cx="604.8" cy="67.2" r="0.85"/>
<circle cx="604.5" cy="68.2" r="0.85"/>
<circle cx="604.3" cy="57.1" r="0.85"/>
<circle cx="607.4" cy="60.2" r="0.85"/>
<circle cx="605.4" cy="61.1" r="0.85"/>
<circle cx="609.7" cy="59.3" r="0.85"/>
<circle cx="604.6" cy="66.9" r="0.85"/>
<circle cx="608.7" cy="64.5" r="0.85"/>
<circle cx="606.2" cy="62.8" r="0.85"/>
<circle cx="607.5" cy="57.4" r="0.85"/>
<circle cx="608.3" cy="54.0" r="0.85"/>
<circle cx="607.4" cy="58.6" r="0.85"/>
<circle cx="605.3" cy="62.0" r="0.85"/>
<circle cx="602.5" cy="59.1" r="0.85"/>
<circle cx="604.8" cy="53.7" r="0.85"/>
<circle cx="604.7" cy="56.1" r="0.85"/>
<circle cx="607.3" cy="60.7" r="0.85"/>
<circle cx="607.1" cy="63.9" r="0.85"/>
<circle cx="603.4" cy="60.3" r="0.85"/>
<circle cx="605.7" cy="61.5" r="0.85"/>
<circle cx="609.9" cy="62.2" r="0.85"/>
<circle cx="606.0" cy="62.2" r="0.85"/>
<circle cx="606.8" cy="67.5" r="0.85"/>
<circle cx="604.9" cy="59.1" r="0.85"/>
<circle cx="602.4" cy="63.3" r="0.85"/>
<circle cx="607.6" cy="56.9" r="0.85"/>
<circle cx="605.3" cy="67.4" r="0.85"/>
<circle cx="608.4" cy="65.5" r="0.85"/>
<circle cx="605.3" cy="66.6" r="0.85"/>
<circle cx="605.2" cy="62.9" r="0.85"/>
<circle cx="607.8" cy="61.9" r="0.85"/>
<circle cx="608.0" cy="54.9" r="0.85"/>
<circle cx="606.0" cy="63.8" r="0.85"/>
<circle cx="608.3" cy="68.2" r="0.85"/>
<circle cx="607.3" cy="50.9" r="0.85"/>
<circle cx="611.4" cy="69.8" r="0.85"/>
<circle cx="608.4" cy="59.0" r="0.85"/>
<circle cx="608.8" cy="64.5" r="0.85"/>
<circle cx="605.5" cy="59.1" r="0.85"/>
<circle cx="604.4" cy="61.8" r="0.85"/>
<circle cx="604.1" cy="65.9" r="0.85"/>
<circle cx="605.9" cy="61.7" r="0.85"/>
<circle cx="606.4" cy="70.0" r="0.85"/>
<circle cx="605.5" cy="62.6" r="0.85"/>
<circle cx="604.9" cy="65.2" r="0.85"/>
<circle cx="606.5" cy="59.9" r="0.85"/>
<circle cx="605.7" cy="62.0" r="0.85"/>
<circle cx="604.1" cy="63.6" r="0.85"/>
<circle cx="608.9" cy="64.6" r="0.85"/>
<circle cx="607.0" cy="69.5" r="0.85"/>
<circle cx="605.0" cy="61.3" r="0.85"/>
<circle cx="605.9" cy="57.1" r="0.85"/>
<circle cx="607.6" cy="59.9" r="0.85"/>
<circle cx="604.5" cy="56.7" r="0.85"/>
<circle cx="607.0" cy="64.5" r="0.85"/>
<circle cx="608.3" cy="62.6" r="0.85"/>
<circle cx="610.1" cy="58.0" r="0.85"/>
<circle cx="607.5" cy="61.0" r="0.85"/>
<circle cx="609.3" cy="66.4" r="0.85"/>
<circle cx="608.1" cy="64.4" r="0.85"/>
<circle cx="606.6" cy="60.1" r="0.85"/>
<circle cx="604.1" cy="65.7" r="0.85"/>
<circle cx="606.2" cy="64.1" r="0.85"/>
<circle cx="609.8" cy="60.2" r="0.85"/>
<circle cx="608.6" cy="63.3" r="0.85"/>
<circle cx="605.3" cy="70.4" r="0.85"/>
<circle cx="607.1" cy="57.9" r="0.85"/>
<circle cx="608.7" cy="66.8" r="0.85"/>
<circle cx="607.1" cy="61.9" r="0.85"/>
<circle cx="609.7" cy="65.2" r="0.85"/>
<circle cx="607.5" cy="64.2" r="0.85"/>
<circle cx="603.9" cy="63.7" r="0.85"/>
<circle cx="604.5" cy="61.9" r="0.85"/>
<circle cx="609.9" cy="62.5" r="0.85"/>
<circle cx="603.2" cy="65.3" r="0.85"/>
<circle cx="609.4" cy="64.4" r="0.85"/>
<circle cx="602.5" cy="60.4" r="0.85"/>
<circle cx="605.4" cy="64.4" r="0.85"/>
<circle cx="607.5" cy="66.8" r="0.85"/>
<circle cx="604.1" cy="66.3" r="0.85"/>
<circle cx="609.2" cy="63.4" r="0.85"/>
<circle cx="609.0" cy="54.9" r="0.85"/>
<circle cx="608.3" cy="65.0" r="0.85"/>
<circle cx="607.6" cy="65.3" r="0.85"/>
<circle cx="604.9" cy="68.6" r="0.85"/>
<circle cx="609.3" cy="58.5" r="0.85"/>
<circle cx="605.4" cy="61.5" r="0.85"/>
<circle cx="607.0" cy="60.3" r="0.85"/>
<circle cx="606.4" cy="61.4" r="0.85"/>
<circle cx="608.2" cy="55.3" r="0.85"/>
<circle cx="608.1" cy="60.5" r="0.85"/>
<circle cx="606.6" cy="60.7" r="0.85"/>
<circle cx="605.9" cy="60.9" r="0.85"/>
<circle cx="605.2" cy="69.2" r="0.85"/>
<circle cx="603.7" cy="56.6" r="0.85"/>
<circle cx="609.9" cy="60.6" r="0.85"/>
<circle cx="603.9" cy="67.2" r="0.85"/>
<circle cx="610.0" cy="60.1" r="0.85"/>
<circle cx="609.7" cy="67.5" r="0.85"/>
<circle cx="607.8" cy="64.7" r="0.85"/>
<circle cx="606.7" cy="59.8" r="0.85"/>
<circle cx="609.6" cy="59.5" r="0.85"/>
<circle cx="605.3" cy="63.0" r="0.85"/>
<circle cx="607.2" cy="61.6" r="0.85"/>
<circle cx="605.7" cy="62.9" r="0.85"/>
<circle cx="609.2" cy="60.2" r="0.85"/>
<circle cx="608.6" cy="64.9" r="0.85"/>
<circle cx="607.8" cy="60.9" r="0.85"/>
<circle cx="606.7" cy="60.5" r="0.85"/>
<circle cx="605.5" cy="61.7" r="0.85"/>
<circle cx="605.2" cy="57.2" r="0.85"/>
<circle cx="607.0" cy="61.1" r="0.85"/>
<circle cx="606.9" cy="61.6" r="0.85"/>
<circle cx="607.7" cy="56.4" r="0.85"/>
<circle cx="608.7" cy="54.9" r="0.85"/>
<circle cx="605.4" cy="67.6" r="0.85"/>
<circle cx="604.6" cy="61.3" r="0.85"/>
<circle cx="604.9" cy="61.8" r="0.85"/>
<circle cx="607.6" cy="59.8" r="0.85"/>
<circle cx="604.1" cy="68.1" r="0.85"/>
<circle cx="605.8" cy="62.0" r="0.85"/>
<circle cx="604.9" cy="54.9" r="0.85"/>
<circle cx="604.1" cy="64.5" r="0.85"/>
<circle cx="609.6" cy="58.3" r="0.85"/>
<circle cx="606.5" cy="64.2" r="0.85"/>
<circle cx="609.3" cy="61.9" r="0.85"/>
<circle cx="606.8" cy="67.8" r="0.85"/>
<circle cx="609.7" cy="64.4" r="0.85"/>
<circle cx="604.7" cy="60.8" r="0.85"/>
<circle cx="606.1" cy="68.4" r="0.85"/>
<circle cx="605.4" cy="73.9" r="0.85"/>
<circle cx="608.4" cy="60.2" r="0.85"/>
<circle cx="605.4" cy="67.0" r="0.85"/>
<circle cx="607.3" cy="64.0" r="0.85"/>
<circle cx="605.0" cy="64.4" r="0.85"/>
<circle cx="604.3" cy="57.2" r="0.85"/>
<circle cx="609.2" cy="58.4" r="0.85"/>
<circle cx="608.5" cy="68.5" r="0.85"/>
<circle cx="608.7" cy="63.1" r="0.85"/>
<circle cx="605.5" cy="60.2" r="0.85"/>
<circle cx="609.0" cy="70.1" r="0.85"/>
<circle cx="604.3" cy="67.7" r="0.85"/>
<circle cx="605.6" cy="65.6" r="0.85"/>
<circle cx="610.3" cy="58.4" r="0.85"/>
<circle cx="611.3" cy="69.8" r="0.85"/>
<circle cx="604.0" cy="71.6" r="0.85"/>
<circle cx="609.2" cy="53.9" r="0.85"/>
<circle cx="605.4" cy="55.8" r="0.85"/>
<circle cx="604.9" cy="59.1" r="0.85"/>
<circle cx="605.4" cy="66.6" r="0.85"/>
<circle cx="606.6" cy="59.4" r="0.85"/>
<circle cx="609.3" cy="64.5" r="0.85"/>
<circle cx="609.0" cy="63.3" r="0.85"/>
<circle cx="605.8" cy="63.0" r="0.85"/>
<circle cx="609.8" cy="70.7" r="0.85"/>
<circle cx="604.3" cy="77.8" r="0.85"/>
<circle cx="604.3" cy="64.5" r="0.85"/>
<circle cx="608.8" cy="68.1" r="0.85"/>
<circle cx="605.9" cy="60.7" r="0.85"/>
<circle cx="609.1" cy="69.3" r="0.85"/>
<circle cx="604.1" cy="62.9" r="0.85"/>
<circle cx="602.4" cy="63.3" r="0.85"/>
<circle cx="605.6" cy="63.4" r="0.85"/>
<circle cx="609.1" cy="60.7" r="0.85"/>
<circle cx="604.0" cy="52.8" r="0.85"/>
<circle cx="609.4" cy="58.4" r="0.85"/>
<circle cx="608.9" cy="57.1" r="0.85"/>
<circle cx="607.4" cy="70.4" r="0.85"/>
<circle cx="608.9" cy="64.4" r="0.85"/>
<circle cx="605.4" cy="66.8" r="0.85"/>
<circle cx="609.0" cy="64.7" r="0.85"/>
<circle cx="608.0" cy="56.5" r="0.85"/>
<circle cx="609.7" cy="62.7" r="0.85"/>
<circle cx="603.8" cy="58.8" r="0.85"/>
<circle cx="608.8" cy="59.1" r="0.85"/>
<circle cx="606.8" cy="62.1" r="0.85"/>
<circle cx="609.8" cy="63.3" r="0.85"/>
<circle cx="604.0" cy="63.0" r="0.85"/>
<circle cx="608.3" cy="63.1" r="0.85"/>
<circle cx="605.4" cy="61.3" r="0.85"/>
<circle cx="607.9" cy="62.7" r="0.85"/>
<circle cx="611.4" cy="67.9" r="0.85"/>
<circle cx="606.0" cy="71.7" r="0.85"/>
<circle cx="609.0" cy="67.3" r="0.85"/>
<circle cx="606.4" cy="61.6" r="0.85"/>
<circle cx="607.9" cy="64.2" r="0.85"/>
<circle cx="607.8" cy="67.5" r="0.85"/>
<circle cx="604.6" cy="66.9" r="0.85"/>
<circle cx="605.7" cy="65.3" r="0.85"/>
<circle cx="604.8" cy="67.9" r="0.85"/>
<circle cx="606.4" cy="64.3" r="0.85"/>
<circle cx="607.0" cy="61.4" r="0.85"/>
<circle cx="606.2" cy="56.0" r="0.85"/>
<circle cx="605.5" cy="67.1" r="0.85"/>
<circle cx="604.9" cy="65.2" r="0.85"/>
<circle cx="607.7" cy="58.9" r="0.85"/>
<circle cx="608.4" cy="62.6" r="0.85"/>
<circle cx="605.0" cy="59.3" r="0.85"/>
<circle cx="606.9" cy="60.7" r="0.85"/>
<circle cx="604.7" cy="70.0" r="0.85"/>
<circle cx="607.8" cy="61.0" r="0.85"/>
<circle cx="605.7" cy="72.9" r="0.85"/>
<circle cx="606.6" cy="62.0" r="0.85"/>
<circle cx="608.7" cy="59.5" r="0.85"/>
<circle cx="606.7" cy="63.1" r="0.85"/>
<circle cx="609.8" cy="72.8" r="0.85"/>
<circle cx="605.7" cy="61.9" r="0.85"/>
<circle cx="608.8" cy="64.7" r="0.85"/>
<circle cx="605.7" cy="52.8" r="0.85"/>
<circle cx="607.8" cy="65.0" r="0.85"/>
<circle cx="604.3" cy="56.6" r="0.85"/>
<circle cx="608.5" cy="62.0" r="0.85"/>
<circle cx="609.7" cy="64.1" r="0.85"/>
<circle cx="605.0" cy="63.9" r="0.85"/>
<circle cx="606.5" cy="65.6" r="0.85"/>
<circle cx="604.5" cy="61.5" r="0.85"/>
<circle cx="606.4" cy="61.1" r="0.85"/>
<circle cx="609.1" cy="63.7" r="0.85"/>
<circle cx="607.5" cy="67.2" r="0.85"/>
<circle cx="604.7" cy="62.9" r="0.85"/>
<circle cx="609.7" cy="62.4" r="0.85"/>
<circle cx="607.2" cy="58.4" r="0.85"/>
<circle cx="605.7" cy="55.3" r="0.85"/>
<circle cx="606.1" cy="63.0" r="0.85"/>
<circle cx="604.8" cy="61.7" r="0.85"/>
<circle cx="609.2" cy="63.6" r="0.85"/>
<circle cx="606.2" cy="66.9" r="0.85"/>
<circle cx="606.9" cy="66.0" r="0.85"/>
<circle cx="608.9" cy="58.7" r="0.85"/>
<circle cx="607.3" cy="63.6" r="0.85"/>
<circle cx="604.2" cy="63.7" r="0.85"/>
<circle cx="604.3" cy="61.4" r="0.85"/>
<circle cx="604.9" cy="52.8" r="0.85"/>
<circle cx="607.9" cy="59.0" r="0.85"/>
<circle cx="607.6" cy="62.1" r="0.85"/>
<circle cx="606.0" cy="65.7" r="0.85"/>
<circle cx="607.2" cy="61.1" r="0.85"/>
<circle cx="604.4" cy="56.5" r="0.85"/>
<circle cx="604.6" cy="68.3" r="0.85"/>
<circle cx="607.7" cy="62.3" r="0.85"/>
<circle cx="606.1" cy="60.5" r="0.85"/>
<circle cx="606.9" cy="66.7" r="0.85"/>
<circle cx="608.0" cy="66.9" r="0.85"/>
<circle cx="606.6" cy="62.1" r="0.85"/>
<circle cx="604.2" cy="56.9" r="0.85"/>
<circle cx="603.9" cy="60.0" r="0.85"/>
<circle cx="607.8" cy="65.8" r="0.85"/>
<circle cx="608.3" cy="61.8" r="0.85"/>
<circle cx="609.8" cy="67.7" r="0.85"/>
<circle cx="609.0" cy="54.2" r="0.85"/>
<circle cx="608.3" cy="60.3" r="0.85"/>
<circle cx="608.3" cy="60.8" r="0.85"/>
<circle cx="607.2" cy="60.4" r="0.85"/>
<circle cx="608.8" cy="54.0" r="0.85"/>
<circle cx="609.6" cy="60.5" r="0.85"/>
<circle cx="605.1" cy="69.1" r="0.85"/>
<circle cx="608.3" cy="63.7" r="0.85"/>
<circle cx="606.4" cy="60.1" r="0.85"/>
<circle cx="604.8" cy="59.3" r="0.85"/>
<circle cx="605.6" cy="56.6" r="0.85"/>
<circle cx="609.5" cy="63.4" r="0.85"/>
<circle cx="606.8" cy="59.0" r="0.85"/>
<circle cx="609.4" cy="60.7" r="0.85"/>
<circle cx="604.6" cy="66.2" r="0.85"/>
<circle cx="607.6" cy="66.4" r="0.85"/>
<circle cx="606.4" cy="68.6" r="0.85"/>
<circle cx="608.2" cy="55.2" r="0.85"/>
<circle cx="608.7" cy="59.9" r="0.85"/>
<circle cx="608.9" cy="67.0" r="0.85"/>
<circle cx="604.7" cy="57.3" r="0.85"/>
<circle cx="608.0" cy="67.7" r="0.85"/>
<circle cx="607.2" cy="62.2" r="0.85"/>
<circle cx="604.9" cy="66.4" r="0.85"/>
<circle cx="605.6" cy="60.6" r="0.85"/>
<circle cx="608.6" cy="57.3" r="0.85"/>
<circle cx="604.9" cy="58.0" r="0.85"/>
<circle cx="609.3" cy="70.0" r="0.85"/>
<circle cx="602.9" cy="60.9" r="0.85"/>
<circle cx="604.4" cy="57.1" r="0.85"/>
<circle cx="606.1" cy="65.8" r="0.85"/>
<circle cx="608.6" cy="55.7" r="0.85"/>
<circle cx="606.1" cy="61.6" r="0.85"/>
<circle cx="609.1" cy="63.8" r="0.85"/>
<circle cx="607.7" cy="63.6" r="0.85"/>
<circle cx="606.0" cy="65.2" r="0.85"/>
<circle cx="605.1" cy="61.9" r="0.85"/>
<circle cx="605.1" cy="51.7" r="0.85"/>
<circle cx="606.4" cy="63.4" r="0.85"/>
<circle cx="606.2" cy="62.1" r="0.85"/>
<circle cx="608.0" cy="61.5" r="0.85"/>
<circle cx="605.9" cy="64.4" r="0.85"/>
<circle cx="604.1" cy="65.6" r="0.85"/>
<circle cx="607.3" cy="63.2" r="0.85"/>
<circle cx="607.7" cy="68.8" r="0.85"/>
<circle cx="608.6" cy="71.7" r="0.85"/>
<circle cx="607.2" cy="63.5" r="0.85"/>
<circle cx="602.4" cy="60.8" r="0.85"/>
<circle cx="605.5" cy="56.7" r="0.85"/>
<circle cx="606.1" cy="67.2" r="0.85"/>
<circle cx="610.6" cy="49.4" r="0.85"/>
<circle cx="609.5" cy="69.6" r="0.85"/>
<circle cx="604.4" cy="66.5" r="0.85"/>
<circle cx="632.2" cy="64.7" r="0.85"/>
<circle cx="636.4" cy="71.3" r="0.85"/>
<circle cx="632.4" cy="69.1" r="0.85"/>
<circle cx="636.4" cy="72.5" r="0.85"/>
<circle cx="635.3" cy="71.6" r="0.85"/>
<circle cx="635.9" cy="69.5" r="0.85"/>
<circle cx="633.4" cy="68.1" r="0.85"/>
<circle cx="633.8" cy="70.8" r="0.85"/>
<circle cx="635.1" cy="75.6" r="0.85"/>
<circle cx="632.1" cy="72.3" r="0.85"/>
<circle cx="632.7" cy="72.6" r="0.85"/>
<circle cx="634.2" cy="66.9" r="0.85"/>
<circle cx="631.8" cy="68.3" r="0.85"/>
<circle cx="633.2" cy="65.5" r="0.85"/>
<circle cx="635.1" cy="75.2" r="0.85"/>
<circle cx="633.0" cy="73.8" r="0.85"/>
<circle cx="635.9" cy="71.7" r="0.85"/>
<circle cx="636.4" cy="73.0" r="0.85"/>
<circle cx="636.3" cy="64.9" r="0.85"/>
<circle cx="635.8" cy="64.0" r="0.85"/>
<circle cx="634.2" cy="74.5" r="0.85"/>
<circle cx="634.3" cy="68.8" r="0.85"/>
<circle cx="632.7" cy="73.9" r="0.85"/>
<circle cx="635.8" cy="76.1" r="0.85"/>
<circle cx="632.9" cy="69.0" r="0.85"/>
<circle cx="634.7" cy="67.1" r="0.85"/>
<circle cx="632.6" cy="76.3" r="0.85"/>
<circle cx="631.7" cy="73.8" r="0.85"/>
<circle cx="632.4" cy="75.8" r="0.85"/>
<circle cx="635.9" cy="76.3" r="0.85"/>
<circle cx="636.4" cy="69.2" r="0.85"/>
<circle cx="638.9" cy="77.5" r="0.85"/>
<circle cx="634.7" cy="75.2" r="0.85"/>
<circle cx="632.1" cy="74.0" r="0.85"/>
<circle cx="635.8" cy="71.5" r="0.85"/>
<circle cx="634.9" cy="69.1" r="0.85"/>
<circle cx="632.9" cy="67.6" r="0.85"/>
<circle cx="634.4" cy="70.7" r="0.85"/>
<circle cx="637.0" cy="67.3" r="0.85"/>
<circle cx="632.1" cy="67.6" r="0.85"/>
<circle cx="635.7" cy="75.0" r="0.85"/>
<circle cx="636.9" cy="67.8" r="0.85"/>
<circle cx="633.4" cy="64.1" r="0.85"/>
<circle cx="637.3" cy="71.0" r="0.85"/>
<circle cx="632.9" cy="63.0" r="0.85"/>
<circle cx="632.9" cy="69.1" r="0.85"/>
<circle cx="631.7" cy="72.8" r="0.85"/>
<circle cx="632.9" cy="64.9" r="0.85"/>
<circle cx="634.3" cy="66.0" r="0.85"/>
<circle cx="634.2" cy="70.1" r="0.85"/>
<circle cx="631.8" cy="75.1" r="0.85"/>
<circle cx="636.0" cy="69.9" r="0.85"/>
<circle cx="632.1" cy="68.7" r="0.85"/>
<circle cx="632.1" cy="71.3" r="0.85"/>
<circle cx="634.5" cy="64.1" r="0.85"/>
<circle cx="631.5" cy="63.5" r="0.85"/>
<circle cx="635.5" cy="72.8" r="0.85"/>
<circle cx="636.9" cy="73.2" r="0.85"/>
<circle cx="633.5" cy="72.4" r="0.85"/>
<circle cx="633.5" cy="70.8" r="0.85"/>
<circle cx="636.8" cy="77.8" r="0.85"/>
<circle cx="636.0" cy="64.9" r="0.85"/>
<circle cx="634.8" cy="69.0" r="0.85"/>
<circle cx="632.1" cy="68.9" r="0.85"/>
<circle cx="633.2" cy="73.8" r="0.85"/>
<circle cx="633.6" cy="71.0" r="0.85"/>
<circle cx="636.0" cy="70.4" r="0.85"/>
<circle cx="629.9" cy="66.3" r="0.85"/>
<circle cx="636.0" cy="70.8" r="0.85"/>
<circle cx="637.2" cy="71.7" r="0.85"/>
<circle cx="636.3" cy="72.4" r="0.85"/>
<circle cx="635.4" cy="70.0" r="0.85"/>
<circle cx="635.7" cy="77.0" r="0.85"/>
<circle cx="636.5" cy="66.2" r="0.85"/>
<circle cx="633.3" cy="74.8" r="0.85"/>
<circle cx="632.3" cy="65.8" r="0.85"/>
<circle cx="632.9" cy="63.1" r="0.85"/>
<circle cx="637.2" cy="73.0" r="0.85"/>
<circle cx="634.0" cy="69.0" r="0.85"/>
<circle cx="634.6" cy="67.7" r="0.85"/>
<circle cx="635.5" cy="70.6" r="0.85"/>
<circle cx="634.7" cy="79.6" r="0.85"/>
<circle cx="635.6" cy="68.3" r="0.85"/>
<circle cx="633.5" cy="69.3" r="0.85"/>
<circle cx="635.7" cy="74.9" r="0.85"/>
<circle cx="634.9" cy="68.5" r="0.85"/>
<circle cx="636.8" cy="79.1" r="0.85"/>
<circle cx="632.4" cy="65.9" r="0.85"/>
<circle cx="638.0" cy="69.7" r="0.85"/>
<circle cx="635.2" cy="75.4" r="0.85"/>
<circle cx="637.2" cy="69.7" r="0.85"/>
<circle cx="631.5" cy="68.7" r="0.85"/>
<circle cx="631.6" cy="63.5" r="0.85"/>
<circle cx="631.6" cy="70.0" r="0.85"/>
<circle cx="636.3" cy="70.6" r="0.85"/>
<circle cx="633.4" cy="69.5" r="0.85"/>
<circle cx="635.9" cy="66.9" r="0.85"/>
<circle cx="632.9" cy="75.3" r="0.85"/>
<circle cx="633.4" cy="73.5" r="0.85"/>
<circle cx="632.3" cy="72.6" r="0.85"/>
<circle cx="635.7" cy="69.7" r="0.85"/>
<circle cx="633.6" cy="67.4" r="0.85"/>
<circle cx="631.6" cy="74.6" r="0.85"/>
<circle cx="635.2" cy="70.7" r="0.85"/>
<circle cx="633.6" cy="69.1" r="0.85"/>
<circle cx="633.1" cy="69.8" r="0.85"/>
<circle cx="635.3" cy="71.9" r="0.85"/>
<circle cx="635.0" cy="73.5" r="0.85"/>
<circle cx="632.4" cy="70.4" r="0.85"/>
<circle cx="634.5" cy="69.1" r="0.85"/>
<circle cx="636.1" cy="66.4" r="0.85"/>
<circle cx="631.7" cy="69.5" r="0.85"/>
<circle cx="633.5" cy="72.4" r="0.85"/>
<circle cx="633.0" cy="66.6" r="0.85"/>
<circle cx="630.6" cy="70.4" r="0.85"/>
<circle cx="634.3" cy="67.7" r="0.85"/>
<circle cx="635.8" cy="70.0" r="0.85"/>
<circle cx="635.7" cy="72.7" r="0.85"/>
<circle cx="636.4" cy="70.1" r="0.85"/>
<circle cx="633.0" cy="69.8" r="0.85"/>
<circle cx="637.9" cy="69.5" r="0.85"/>
<circle cx="635.9" cy="71.4" r="0.85"/>
<circle cx="635.9" cy="71.7" r="0.85"/>
<circle cx="634.3" cy="72.6" r="0.85"/>
<circle cx="629.9" cy="69.4" r="0.85"/>
<circle cx="635.1" cy="69.8" r="0.85"/>
<circle cx="634.4" cy="71.8" r="0.85"/>
<circle cx="632.0" cy="69.6" r="0.85"/>
<circle cx="633.5" cy="75.3" r="0.85"/>
<circle cx="635.1" cy="65.7" r="0.85"/>
<circle cx="634.4" cy="73.5" r="0.85"/>
<circle cx="635.8" cy="68.7" r="0.85"/>
<circle cx="633.4" cy="72.7" r="0.85"/>
<circle cx="635.4" cy="76.3" r="0.85"/>
<circle cx="634.2" cy="77.0" r="0.85"/>
<circle cx="633.5" cy="68.7" r="0.85"/>
<circle cx="632.8" cy="74.1" r="0.85"/>
<circle cx="630.2" cy="61.8" r="0.85"/>
<circle cx="636.7" cy="70.7" r="0.85"/>
<circle cx="633.5" cy="62.6" r="0.85"/>
<circle cx="636.7" cy="67.9" r="0.85"/>
<circle cx="631.9" cy="66.5" r="0.85"/>
<circle cx="637.3" cy="65.3" r="0.85"/>
<circle cx="634.2" cy="70.4" r="0.85"/>
<circle cx="633.9" cy="66.5" r="0.85"/>
<circle cx="636.5" cy="66.3" r="0.85"/>
<circle cx="632.1" cy="67.6" r="0.85"/>
<circle cx="631.8" cy="68.6" r="0.85"/>
<circle cx="636.4" cy="72.2" r="0.85"/>
<circle cx="632.7" cy="68.8" r="0.85"/>
<circle cx="633.6" cy="67.1" r="0.85"/>
<circle cx="636.4" cy="64.3" r="0.85"/>
<circle cx="635.2" cy="72.5" r="0.85"/>
<circle cx="635.9" cy="71.4" r="0.85"/>
<circle cx="637.3" cy="72.6" r="0.85"/>
<circle cx="632.7" cy="61.3" r="0.85"/>
<circle cx="630.9" cy="74.7" r="0.85"/>
<circle cx="631.5" cy="69.9" r="0.85"/>
<circle cx="636.7" cy="78.5" r="0.85"/>
<circle cx="636.8" cy="67.3" r="0.85"/>
<circle cx="634.9" cy="73.4" r="0.85"/>
<circle cx="632.7" cy="76.2" r="0.85"/>
<circle cx="635.5" cy="69.6" r="0.85"/>
<circle cx="634.5" cy="70.3" r="0.85"/>
<circle cx="634.2" cy="68.7" r="0.85"/>
<circle cx="634.0" cy="69.5" r="0.85"/>
<circle cx="634.5" cy="73.3" r="0.85"/>
<circle cx="637.1" cy="71.2" r="0.85"/>
<circle cx="631.7" cy="66.7" r="0.85"/>
<circle cx="635.8" cy="79.2" r="0.85"/>
<circle cx="634.2" cy="67.9" r="0.85"/>
<circle cx="632.3" cy="74.6" r="0.85"/>
<circle cx="636.2" cy="70.7" r="0.85"/>
<circle cx="632.6" cy="72.9" r="0.85"/>
<circle cx="632.1" cy="72.5" r="0.85"/>
<circle cx="633.2" cy="73.4" r="0.85"/>
<circle cx="636.2" cy="73.3" r="0.85"/>
<circle cx="638.3" cy="76.6" r="0.85"/>
<circle cx="634.7" cy="67.0" r="0.85"/>
<circle cx="636.3" cy="65.8" r="0.85"/>
<circle cx="631.9" cy="64.6" r="0.85"/>
<circle cx="633.0" cy="63.2" r="0.85"/>
<circle cx="636.7" cy="71.8" r="0.85"/>
<circle cx="635.0" cy="64.3" r="0.85"/>
<circle cx="631.9" cy="64.6" r="0.85"/>
<circle cx="635.1" cy="71.3" r="0.85"/>
<circle cx="635.7" cy="69.4" r="0.85"/>
<circle cx="632.3" cy="70.8" r="0.85"/>
<circle cx="631.9" cy="60.9" r="0.85"/>
<circle cx="637.4" cy="65.9" r="0.85"/>
<circle cx="634.3" cy="64.9" r="0.85"/>
<circle cx="637.1" cy="70.3" r="0.85"/>
<circle cx="632.7" cy="70.3" r="0.85"/>
<circle cx="635.5" cy="71.8" r="0.85"/>
<circle cx="636.5" cy="74.8" r="0.85"/>
<circle cx="633.6" cy="82.8" r="0.85"/>
<circle cx="636.8" cy="68.5" r="0.85"/>
<circle cx="636.1" cy="72.9" r="0.85"/>
<circle cx="635.9" cy="73.6" r="0.85"/>
<circle cx="631.0" cy="70.0" r="0.85"/>
<circle cx="633.7" cy="66.9" r="0.85"/>
<circle cx="633.5" cy="73.5" r="0.85"/>
<circle cx="637.1" cy="73.6" r="0.85"/>
<circle cx="635.9" cy="72.4" r="0.85"/>
<circle cx="632.5" cy="67.8" r="0.85"/>
<circle cx="636.9" cy="62.5" r="0.85"/>
<circle cx="636.9" cy="66.9" r="0.85"/>
<circle cx="632.0" cy="74.7" r="0.85"/>
<circle cx="632.0" cy="74.7" r="0.85"/>
<circle cx="637.2" cy="66.8" r="0.85"/>
<circle cx="632.5" cy="71.3" r="0.85"/>
<circle cx="633.4" cy="75.1" r="0.85"/>
<circle cx="637.4" cy="73.0" r="0.85"/>
<circle cx="635.2" cy="67.1" r="0.85"/>
<circle cx="637.3" cy="69.8" r="0.85"/>
<circle cx="634.3" cy="70.2" r="0.85"/>
<circle cx="637.6" cy="66.5" r="0.85"/>
<circle cx="636.7" cy="76.7" r="0.85"/>
<circle cx="633.9" cy="64.1" r="0.85"/>
<circle cx="636.1" cy="71.9" r="0.85"/>
<circle cx="637.3" cy="74.1" r="0.85"/>
<circle cx="636.0" cy="72.1" r="0.85"/>
<circle cx="634.2" cy="73.1" r="0.85"/>
<circle cx="636.0" cy="62.4" r="0.85"/>
<circle cx="633.9" cy="70.7" r="0.85"/>
<circle cx="637.1" cy="71.6" r="0.85"/>
<circle cx="635.3" cy="71.5" r="0.85"/>
<circle cx="631.8" cy="65.8" r="0.85"/>
<circle cx="634.1" cy="69.7" r="0.85"/>
<circle cx="635.0" cy="67.6" r="0.85"/>
<circle cx="632.9" cy="75.4" r="0.85"/>
<circle cx="632.2" cy="68.2" r="0.85"/>
<circle cx="635.5" cy="70.0" r="0.85"/>
<circle cx="637.2" cy="69.9" r="0.85"/>
<circle cx="634.3" cy="69.8" r="0.85"/>
<circle cx="631.2" cy="76.6" r="0.85"/>
<circle cx="632.9" cy="74.1" r="0.85"/>
<circle cx="636.4" cy="71.9" r="0.85"/>
<circle cx="637.3" cy="69.3" r="0.85"/>
<circle cx="635.3" cy="69.0" r="0.85"/>
<circle cx="634.1" cy="63.9" r="0.85"/>
<circle cx="632.2" cy="70.8" r="0.85"/>
<circle cx="632.3" cy="71.7" r="0.85"/>
<circle cx="633.5" cy="69.9" r="0.85"/>
<circle cx="636.6" cy="67.2" r="0.85"/>
<circle cx="631.6" cy="74.8" r="0.85"/>
<circle cx="633.8" cy="74.4" r="0.85"/>
<circle cx="636.2" cy="71.1" r="0.85"/>
<circle cx="632.3" cy="76.2" r="0.85"/>
<circle cx="632.0" cy="71.5" r="0.85"/>
<circle cx="633.2" cy="77.1" r="0.85"/>
<circle cx="635.7" cy="69.9" r="0.85"/>
<circle cx="633.8" cy="71.1" r="0.85"/>
<circle cx="634.8" cy="68.5" r="0.85"/>
<circle cx="632.0" cy="67.5" r="0.85"/>
<circle cx="631.9" cy="68.9" r="0.85"/>
<circle cx="632.4" cy="71.4" r="0.85"/>
<circle cx="633.7" cy="71.1" r="0.85"/>
<circle cx="635.4" cy="67.9" r="0.85"/>
<circle cx="633.0" cy="78.5" r="0.85"/>
<circle cx="635.0" cy="74.5" r="0.85"/>
<circle cx="635.2" cy="69.8" r="0.85"/>
<circle cx="635.6" cy="73.7" r="0.85"/>
<circle cx="636.0" cy="71.9" r="0.85"/>
<circle cx="636.4" cy="69.1" r="0.85"/>
<circle cx="631.6" cy="77.2" r="0.85"/>
<circle cx="633.5" cy="73.6" r="0.85"/>
<circle cx="631.6" cy="75.5" r="0.85"/>
<circle cx="633.2" cy="72.5" r="0.85"/>
<circle cx="635.1" cy="73.1" r="0.85"/>
<circle cx="637.2" cy="73.4" r="0.85"/>
<circle cx="638.9" cy="71.6" r="0.85"/>
<circle cx="632.6" cy="71.4" r="0.85"/>
<circle cx="636.8" cy="73.5" r="0.85"/>
<circle cx="632.2" cy="67.3" r="0.85"/>
<circle cx="635.4" cy="70.1" r="0.85"/>
<circle cx="634.5" cy="75.1" r="0.85"/>
<circle cx="631.0" cy="76.2" r="0.85"/>
<circle cx="637.2" cy="71.4" r="0.85"/>
<circle cx="631.5" cy="67.9" r="0.85"/>
<circle cx="635.7" cy="74.3" r="0.85"/>
<circle cx="634.8" cy="67.8" r="0.85"/>
<circle cx="632.9" cy="67.0" r="0.85"/>
<circle cx="636.2" cy="65.7" r="0.85"/>
<circle cx="633.4" cy="63.4" r="0.85"/>
<circle cx="631.4" cy="77.4" r="0.85"/>
<circle cx="637.2" cy="70.8" r="0.85"/>
<circle cx="631.8" cy="60.5" r="0.85"/>
<circle cx="632.2" cy="69.5" r="0.85"/>
<circle cx="633.7" cy="64.6" r="0.85"/>
<circle cx="632.2" cy="72.5" r="0.85"/>
<circle cx="633.0" cy="68.3" r="0.85"/>
<circle cx="635.1" cy="67.9" r="0.85"/>
<circle cx="636.5" cy="72.9" r="0.85"/>
<circle cx="632.8" cy="76.4" r="0.85"/>
<circle cx="636.6" cy="67.8" r="0.85"/>
<circle cx="637.0" cy="70.4" r="0.85"/>
<circle cx="633.3" cy="67.1" r="0.85"/>
<circle cx="635.6" cy="73.9" r="0.85"/>
<circle cx="632.3" cy="71.4" r="0.85"/>
<circle cx="633.0" cy="71.0" r="0.85"/>
<circle cx="636.3" cy="67.6" r="0.85"/>
<circle cx="635.7" cy="75.8" r="0.85"/>
<circle cx="636.0" cy="69.5" r="0.85"/>
<circle cx="637.3" cy="74.7" r="0.85"/>
<circle cx="635.9" cy="76.8" r="0.85"/>
<circle cx="636.2" cy="66.4" r="0.85"/>
<circle cx="631.6" cy="69.8" r="0.85"/>
<circle cx="631.9" cy="71.4" r="0.85"/>
<circle cx="634.3" cy="66.7" r="0.85"/>
<circle cx="634.8" cy="70.2" r="0.85"/>
<circle cx="635.9" cy="75.8" r="0.85"/>
<circle cx="634.0" cy="64.6" r="0.85"/>
<circle cx="631.6" cy="69.5" r="0.85"/>
<circle cx="633.9" cy="71.7" r="0.85"/>
<circle cx="636.6" cy="68.9" r="0.85"/>
<circle cx="634.1" cy="69.6" r="0.85"/>
<circle cx="632.0" cy="65.5" r="0.85"/>
<circle cx="635.2" cy="70.6" r="0.85"/>
<circle cx="635.1" cy="71.2" r="0.85"/>
<circle cx="634.3" cy="70.1" r="0.85"/>
<circle cx="637.0" cy="75.4" r="0.85"/>
<circle cx="637.0" cy="70.5" r="0.85"/>
<circle cx="635.0" cy="65.5" r="0.85"/>
<circle cx="633.4" cy="76.7" r="0.85"/>
<circle cx="635.2" cy="73.0" r="0.85"/>
<circle cx="635.7" cy="74.5" r="0.85"/>
<circle cx="632.9" cy="75.2" r="0.85"/>
<circle cx="636.3" cy="68.7" r="0.85"/>
<circle cx="637.3" cy="67.1" r="0.85"/>
<circle cx="634.0" cy="76.5" r="0.85"/>
<circle cx="632.0" cy="63.8" r="0.85"/>
<circle cx="635.3" cy="68.7" r="0.85"/>
<circle cx="634.0" cy="73.3" r="0.85"/>
<circle cx="636.4" cy="68.2" r="0.85"/>
<circle cx="634.6" cy="73.3" r="0.85"/>
<circle cx="632.6" cy="67.7" r="0.85"/>
<circle cx="632.3" cy="79.1" r="0.85"/>
<circle cx="634.9" cy="70.3" r="0.85"/>
<circle cx="637.8" cy="73.5" r="0.85"/>
<circle cx="634.1" cy="65.8" r="0.85"/>
<circle cx="634.9" cy="73.2" r="0.85"/>
<circle cx="634.7" cy="73.1" r="0.85"/>
<circle cx="633.2" cy="69.0" r="0.85"/>
<circle cx="633.7" cy="73.1" r="0.85"/>
<circle cx="635.8" cy="69.9" r="0.85"/>
<circle cx="631.9" cy="72.0" r="0.85"/>
<circle cx="632.2" cy="68.8" r="0.85"/>
<circle cx="632.9" cy="69.0" r="0.85"/>
<circle cx="631.5" cy="66.2" r="0.85"/>
<circle cx="634.1" cy="72.2" r="0.85"/>
<circle cx="636.8" cy="69.9" r="0.85"/>
<circle cx="635.3" cy="68.1" r="0.85"/>
<circle cx="632.0" cy="76.5" r="0.85"/>
<circle cx="636.2" cy="70.7" r="0.85"/>
<circle cx="636.8" cy="60.4" r="0.85"/>
<circle cx="632.2" cy="68.0" r="0.85"/>
<circle cx="634.6" cy="74.0" r="0.85"/>
<circle cx="634.3" cy="71.2" r="0.85"/>
<circle cx="634.0" cy="67.7" r="0.85"/>
<circle cx="635.3" cy="69.7" r="0.85"/>
<circle cx="638.4" cy="72.7" r="0.85"/>
<circle cx="632.2" cy="71.0" r="0.85"/>
<circle cx="633.8" cy="74.8" r="0.85"/>
<circle cx="632.7" cy="74.3" r="0.85"/>
<circle cx="635.9" cy="78.5" r="0.85"/>
<circle cx="635.2" cy="68.3" r="0.85"/>
<circle cx="634.9" cy="70.5" r="0.85"/>
<circle cx="635.0" cy="69.8" r="0.85"/>
<circle cx="636.1" cy="69.8" r="0.85"/>
<circle cx="634.9" cy="70.9" r="0.85"/>
<circle cx="631.8" cy="69.4" r="0.85"/>
<circle cx="634.9" cy="73.9" r="0.85"/>
<circle cx="633.2" cy="66.1" r="0.85"/>
<circle cx="636.7" cy="70.8" r="0.85"/>
<circle cx="634.1" cy="72.9" r="0.85"/>
<circle cx="636.0" cy="74.2" r="0.85"/>
<circle cx="634.2" cy="70.6" r="0.85"/>
<circle cx="636.6" cy="71.8" r="0.85"/>
<circle cx="632.7" cy="68.0" r="0.85"/>
<circle cx="636.0" cy="72.4" r="0.85"/>
<circle cx="633.0" cy="66.0" r="0.85"/>
<circle cx="638.0" cy="73.2" r="0.85"/>
<circle cx="633.5" cy="75.5" r="0.85"/>
<circle cx="636.0" cy="78.1" r="0.85"/>
<circle cx="632.0" cy="69.5" r="0.85"/>
<circle cx="631.1" cy="73.7" r="0.85"/>
<circle cx="634.9" cy="71.7" r="0.85"/>
<circle cx="635.6" cy="72.2" r="0.85"/>
<circle cx="634.4" cy="69.1" r="0.85"/>
<circle cx="633.8" cy="73.7" r="0.85"/>
<circle cx="632.0" cy="71.1" r="0.85"/>
<circle cx="637.4" cy="67.2" r="0.85"/>
<circle cx="636.1" cy="69.3" r="0.85"/>
<circle cx="632.3" cy="75.1" r="0.85"/>
<circle cx="636.9" cy="71.2" r="0.85"/>
<circle cx="637.4" cy="69.9" r="0.85"/>
<circle cx="634.4" cy="70.8" r="0.85"/>
<circle cx="632.2" cy="70.0" r="0.85"/>
<circle cx="635.9" cy="68.0" r="0.85"/>
<circle cx="633.4" cy="69.5" r="0.85"/>
<circle cx="633.8" cy="76.9" r="0.85"/>
<circle cx="636.8" cy="66.3" r="0.85"/>
<circle cx="633.8" cy="74.3" r="0.85"/>
<circle cx="637.3" cy="72.4" r="0.85"/>
<circle cx="630.1" cy="65.5" r="0.85"/>
<circle cx="633.3" cy="70.4" r="0.85"/>
<circle cx="635.7" cy="68.1" r="0.85"/>
<circle cx="636.9" cy="71.3" r="0.85"/>
<circle cx="634.8" cy="66.4" r="0.85"/>
<circle cx="634.1" cy="69.1" r="0.85"/>
<circle cx="633.3" cy="64.8" r="0.85"/>
<circle cx="636.4" cy="65.7" r="0.85"/>
<circle cx="635.7" cy="70.9" r="0.85"/>
<circle cx="633.7" cy="68.6" r="0.85"/>
<circle cx="633.7" cy="76.0" r="0.85"/>
<circle cx="635.1" cy="66.8" r="0.85"/>
<circle cx="631.9" cy="71.2" r="0.85"/>
<circle cx="637.2" cy="66.0" r="0.85"/>
<circle cx="634.9" cy="75.9" r="0.85"/>
<circle cx="634.1" cy="67.6" r="0.85"/>
<circle cx="637.5" cy="65.1" r="0.85"/>
<circle cx="635.8" cy="71.4" r="0.85"/>
<circle cx="634.8" cy="68.8" r="0.85"/>
<circle cx="633.7" cy="78.8" r="0.85"/>
<circle cx="634.7" cy="74.5" r="0.85"/>
<circle cx="634.7" cy="67.8" r="0.85"/>
<circle cx="633.3" cy="73.1" r="0.85"/>
<circle cx="636.8" cy="72.3" r="0.85"/>
<circle cx="636.1" cy="69.3" r="0.85"/>
<circle cx="632.1" cy="69.4" r="0.85"/>
<circle cx="637.5" cy="69.7" r="0.85"/>
<circle cx="634.6" cy="67.1" r="0.85"/>
<circle cx="636.5" cy="71.6" r="0.85"/>
<circle cx="633.5" cy="70.5" r="0.85"/>
<circle cx="634.1" cy="70.3" r="0.85"/>
<circle cx="632.0" cy="69.3" r="0.85"/>
<circle cx="633.6" cy="68.0" r="0.85"/>
<circle cx="635.7" cy="77.5" r="0.85"/>
<circle cx="634.7" cy="71.6" r="0.85"/>
<circle cx="633.7" cy="73.0" r="0.85"/>
<circle cx="637.1" cy="78.5" r="0.85"/>
<circle cx="632.3" cy="70.5" r="0.85"/>
<circle cx="636.7" cy="68.1" r="0.85"/>
<circle cx="631.9" cy="64.5" r="0.85"/>
<circle cx="632.2" cy="65.5" r="0.85"/>
<circle cx="635.4" cy="72.8" r="0.85"/>
<circle cx="632.0" cy="65.7" r="0.85"/>
<circle cx="636.6" cy="63.3" r="0.85"/>
<circle cx="634.0" cy="68.7" r="0.85"/>
<circle cx="637.3" cy="70.3" r="0.85"/>
<circle cx="635.5" cy="76.6" r="0.85"/>
<circle cx="632.1" cy="65.4" r="0.85"/>
<circle cx="633.6" cy="74.2" r="0.85"/>
<circle cx="634.4" cy="62.3" r="0.85"/>
<circle cx="633.3" cy="77.7" r="0.85"/>
<circle cx="632.4" cy="71.6" r="0.85"/>
<circle cx="636.7" cy="67.2" r="0.85"/>
<circle cx="634.4" cy="75.0" r="0.85"/>
<circle cx="635.1" cy="71.2" r="0.85"/>
<circle cx="662.4" cy="91.1" r="0.85"/>
<circle cx="662.3" cy="92.3" r="0.85"/>
<circle cx="662.8" cy="91.4" r="0.85"/>
<circle cx="661.8" cy="91.4" r="0.85"/>
<circle cx="663.5" cy="91.3" r="0.85"/>
<circle cx="661.0" cy="91.7" r="0.85"/>
<circle cx="665.5" cy="91.2" r="0.85"/>
<circle cx="662.3" cy="91.1" r="0.85"/>
<circle cx="660.6" cy="90.6" r="0.85"/>
<circle cx="659.3" cy="91.1" r="0.85"/>
<circle cx="660.5" cy="91.0" r="0.85"/>
<circle cx="662.5" cy="91.9" r="0.85"/>
<circle cx="661.1" cy="90.7" r="0.85"/>
<circle cx="663.8" cy="91.3" r="0.85"/>
<circle cx="661.3" cy="91.0" r="0.85"/>
<circle cx="660.2" cy="91.2" r="0.85"/>
<circle cx="661.4" cy="91.6" r="0.85"/>
<circle cx="661.0" cy="91.1" r="0.85"/>
<circle cx="661.6" cy="90.8" r="0.85"/>
<circle cx="660.1" cy="91.5" r="0.85"/>
<circle cx="661.7" cy="91.6" r="0.85"/>
<circle cx="658.9" cy="91.2" r="0.85"/>
<circle cx="662.1" cy="91.5" r="0.85"/>
<circle cx="661.7" cy="90.6" r="0.85"/>
<circle cx="661.6" cy="91.6" r="0.85"/>
<circle cx="660.6" cy="91.0" r="0.85"/>
<circle cx="661.8" cy="90.6" r="0.85"/>
<circle cx="662.2" cy="91.3" r="0.85"/>
<circle cx="659.1" cy="90.5" r="0.85"/>
<circle cx="663.4" cy="91.3" r="0.85"/>
<circle cx="661.6" cy="91.9" r="0.85"/>
<circle cx="662.7" cy="90.9" r="0.85"/>
<circle cx="664.3" cy="90.8" r="0.85"/>
<circle cx="659.9" cy="91.7" r="0.85"/>
<circle cx="660.3" cy="91.4" r="0.85"/>
<circle cx="660.4" cy="91.6" r="0.85"/>
<circle cx="662.0" cy="90.3" r="0.85"/>
<circle cx="660.3" cy="90.8" r="0.85"/>
<circle cx="660.5" cy="92.0" r="0.85"/>
<circle cx="664.7" cy="90.8" r="0.85"/>
</g>
<path d="M576.4 25.5L579.4 22.5L582.4 25.5L579.4 28.5Z" fill="#2a2a2a" fill-opacity="0.85"/>
<path d="M603.9 62.5L606.9 59.5L609.9 62.5L606.9 65.5Z" fill="#2a2a2a" fill-opacity="0.85"/>
<path d="M631.4 70.6L634.4 67.6L637.4 70.6L634.4 73.6Z" fill="#2a2a2a" fill-opacity="0.85"/>
<path d="M659.5 91.2L661.9 88.8L664.3 91.2L661.9 93.6Z" fill="#2a2a2a" fill-opacity="0.85"/>
<text transform="translate(582.6 16.4) scale(0.92 1)" font-size="13.7px" text-anchor="start">55.1%</text>
<text transform="translate(598.0 44.8) scale(0.92 1)" font-size="13.7px" text-anchor="start">24.4%</text>
<text transform="translate(625.6 60.4) scale(0.92 1)" font-size="13.7px" text-anchor="start">19.3%</text>
<text transform="translate(652.4 82.2) scale(0.92 1)" font-size="13.7px" text-anchor="start">1.2%</text>
<text transform="translate(576.4 115.5) scale(0.92 1)" font-size="13.2px" text-anchor="middle">PC1</text>
<text transform="translate(605.3 115.5) scale(0.92 1)" font-size="13.2px" text-anchor="middle">PC2</text>
<text transform="translate(636.6 115.5) scale(0.92 1)" font-size="13.2px" text-anchor="middle">PC3</text>
<text transform="translate(668.3 115.5) scale(0.92 1)" font-size="13.2px" text-anchor="middle">PC4</text>
<text transform="translate(553.5 96.6) rotate(-90) scale(0.92 1)" font-size="13.7px" text-anchor="start">Explained variance</text>
<rect x="595.4" y="159.0" width="19.8" height="19.9" fill="#c6a43f"/>
<rect x="595.4" y="180.8" width="8.6" height="19.9" fill="#c6a43f"/>
<rect x="595.4" y="202.8" width="18.4" height="20.0" fill="#c6a43f"/>
<rect x="585.4" y="225.0" width="10.0" height="20.0" fill="#c6a43f"/>
<g stroke="#c6a43f" stroke-width="1.1" stroke-opacity="0.9"><line x1="604.0" y1="190.8" x2="607.2" y2="190.8"/>
<line x1="607.2" y1="181.10000000000002" x2="607.2" y2="200.39999999999998"/>
</g>
<g stroke="#c6a43f" stroke-width="1.1" stroke-opacity="0.75"><line x1="582.2" y1="235.0" x2="585.4" y2="235.0"/>
<line x1="582.2" y1="225.3" x2="582.2" y2="244.7"/>
</g>
<g fill="#000" fill-opacity="0.12">
<circle cx="608.9" cy="190.7" r="1.15"/>
<circle cx="594.6" cy="190.5" r="1.15"/>
<circle cx="604.1" cy="190.9" r="1.15"/>
<circle cx="602.8" cy="190.3" r="1.15"/>
<circle cx="601.7" cy="190.0" r="1.15"/>
<circle cx="593.9" cy="190.4" r="1.15"/>
<circle cx="605.7" cy="190.6" r="1.15"/>
<circle cx="603.9" cy="191.6" r="1.15"/>
<circle cx="610.8" cy="190.5" r="1.15"/>
<circle cx="604.6" cy="189.2" r="1.15"/>
<circle cx="594.9" cy="192.4" r="1.15"/>
<circle cx="592.0" cy="191.7" r="1.15"/>
<circle cx="603.1" cy="191.2" r="1.15"/>
<circle cx="610.4" cy="191.1" r="1.15"/>
<circle cx="591.3" cy="190.8" r="1.15"/>
<circle cx="595.5" cy="192.1" r="1.15"/>
<circle cx="601.1" cy="191.9" r="1.15"/>
<circle cx="605.0" cy="191.4" r="1.15"/>
<circle cx="605.1" cy="190.2" r="1.15"/>
<circle cx="608.3" cy="192.2" r="1.15"/>
<circle cx="603.4" cy="191.2" r="1.15"/>
<circle cx="606.6" cy="190.8" r="1.15"/>
<circle cx="604.4" cy="190.0" r="1.15"/>
<circle cx="601.6" cy="189.1" r="1.15"/>
<circle cx="601.3" cy="191.1" r="1.15"/>
<circle cx="606.0" cy="190.4" r="1.15"/>
<circle cx="601.2" cy="189.5" r="1.15"/>
<circle cx="603.0" cy="191.5" r="1.15"/>
<circle cx="606.9" cy="191.0" r="1.15"/>
<circle cx="601.6" cy="190.3" r="1.15"/>
<circle cx="604.7" cy="190.5" r="1.15"/>
<circle cx="607.5" cy="191.2" r="1.15"/>
<circle cx="594.0" cy="234.1" r="1.15"/>
<circle cx="582.0" cy="235.6" r="1.15"/>
<circle cx="581.0" cy="235.2" r="1.15"/>
<circle cx="590.0" cy="234.3" r="1.15"/>
<circle cx="585.4" cy="234.6" r="1.15"/>
<circle cx="593.1" cy="236.2" r="1.15"/>
<circle cx="585.9" cy="233.2" r="1.15"/>
<circle cx="579.8" cy="236.0" r="1.15"/>
<circle cx="578.5" cy="235.8" r="1.15"/>
<circle cx="578.5" cy="234.6" r="1.15"/>
<circle cx="589.5" cy="234.8" r="1.15"/>
<circle cx="578.1" cy="235.3" r="1.15"/>
<circle cx="592.4" cy="235.1" r="1.15"/>
<circle cx="586.9" cy="235.3" r="1.15"/>
<circle cx="584.4" cy="235.9" r="1.15"/>
<circle cx="587.2" cy="234.5" r="1.15"/>
<circle cx="585.1" cy="235.5" r="1.15"/>
<circle cx="586.0" cy="234.3" r="1.15"/>
<circle cx="584.2" cy="235.9" r="1.15"/>
<circle cx="585.0" cy="235.4" r="1.15"/>
<circle cx="588.0" cy="236.4" r="1.15"/>
<circle cx="581.0" cy="235.7" r="1.15"/>
<circle cx="585.6" cy="234.4" r="1.15"/>
<circle cx="584.0" cy="235.9" r="1.15"/>
<circle cx="582.8" cy="236.1" r="1.15"/>
<circle cx="584.6" cy="235.8" r="1.15"/>
<circle cx="585.8" cy="234.8" r="1.15"/>
<circle cx="586.7" cy="234.7" r="1.15"/>
<circle cx="583.5" cy="236.1" r="1.15"/>
<circle cx="586.4" cy="234.5" r="1.15"/>
<circle cx="588.0" cy="235.7" r="1.15"/>
<circle cx="585.4" cy="235.1" r="1.15"/>
<circle cx="586.5" cy="234.5" r="1.15"/>
<circle cx="586.0" cy="234.8" r="1.15"/>
</g>
<path d="M611.7 168.9L614.2 166.4L616.7 168.9L614.2 171.4Z" fill="#222" fill-opacity="0.9"/>
<path d="M601.2 190.8L603.7 188.2L606.2 190.8L603.7 193.2Z" fill="#222" fill-opacity="0.9"/>
<path d="M610.9 212.8L613.4 210.3L615.9 212.8L613.4 215.3Z" fill="#222" fill-opacity="0.9"/>
<path d="M582.5 235.0L585.0 232.5L587.5 235.0L585.0 237.5Z" fill="#222" fill-opacity="0.9"/>
<g stroke="#000" stroke-width="1.45"><line x1="595.4" y1="155.6" x2="595.4" y2="247.5"/><line x1="563.0" y1="247.5" x2="617.0" y2="247.5"/>
<line x1="576.2" y1="247.5" x2="576.2" y2="250.7"/>
<line x1="595.4" y1="247.5" x2="595.4" y2="250.7"/>
<line x1="615.0" y1="247.5" x2="615.0" y2="250.7"/>
</g>
<rect x="657.1" y="159.0" width="3.8" height="19.9" fill="#c6a43f"/>
<rect x="641.6" y="180.8" width="15.5" height="19.9" fill="#c6a43f"/>
<rect x="657.1" y="202.8" width="7.6" height="20.0" fill="#c6a43f"/>
<rect x="657.1" y="225.0" width="7.6" height="20.0" fill="#c6a43f"/>
<g stroke="#c6a43f" stroke-width="1.1" stroke-opacity="0.9"><line x1="660.9" y1="168.9" x2="664.1" y2="168.9"/>
<line x1="664.1" y1="159.3" x2="664.1" y2="178.6"/>
</g>
<g stroke="#c6a43f" stroke-width="1.1" stroke-opacity="0.9"><line x1="626.5" y1="190.8" x2="641.7" y2="190.8"/>
<line x1="626.5" y1="181.10000000000002" x2="626.5" y2="200.39999999999998"/>
</g>
<g stroke="#c6a43f" stroke-width="1.1" stroke-opacity="0.9"><line x1="664.7" y1="212.8" x2="670.6" y2="212.8"/>
<line x1="670.6" y1="203.10000000000002" x2="670.6" y2="222.5"/>
</g>
<g stroke="#c6a43f" stroke-width="1.1" stroke-opacity="0.9"><line x1="664.7" y1="235.0" x2="671.3" y2="235.0"/>
<line x1="671.3" y1="225.3" x2="671.3" y2="244.7"/>
</g>
<g fill="#000" fill-opacity="0.12">
<circle cx="661.2" cy="168.8" r="1.15"/>
<circle cx="663.1" cy="168.9" r="1.15"/>
<circle cx="661.7" cy="170.2" r="1.15"/>
<circle cx="655.3" cy="170.1" r="1.15"/>
<circle cx="658.1" cy="168.8" r="1.15"/>
<circle cx="653.5" cy="168.8" r="1.15"/>
<circle cx="662.8" cy="170.1" r="1.15"/>
<circle cx="656.4" cy="169.4" r="1.15"/>
<circle cx="656.4" cy="170.4" r="1.15"/>
<circle cx="659.7" cy="168.5" r="1.15"/>
<circle cx="654.6" cy="169.9" r="1.15"/>
<circle cx="660.9" cy="168.6" r="1.15"/>
<circle cx="654.9" cy="168.7" r="1.15"/>
<circle cx="660.8" cy="168.7" r="1.15"/>
<circle cx="658.1" cy="168.4" r="1.15"/>
<circle cx="660.7" cy="169.3" r="1.15"/>
<circle cx="659.1" cy="168.9" r="1.15"/>
<circle cx="661.6" cy="167.8" r="1.15"/>
<circle cx="657.4" cy="168.4" r="1.15"/>
<circle cx="657.1" cy="169.7" r="1.15"/>
<circle cx="662.0" cy="168.1" r="1.15"/>
<circle cx="661.3" cy="169.2" r="1.15"/>
<circle cx="659.8" cy="169.7" r="1.15"/>
<circle cx="657.0" cy="169.5" r="1.15"/>
<circle cx="661.0" cy="167.6" r="1.15"/>
<circle cx="663.5" cy="169.4" r="1.15"/>
<circle cx="641.0" cy="190.9" r="1.15"/>
<circle cx="639.7" cy="190.5" r="1.15"/>
<circle cx="642.9" cy="190.4" r="1.15"/>
<circle cx="640.2" cy="191.1" r="1.15"/>
<circle cx="642.2" cy="190.3" r="1.15"/>
<circle cx="644.2" cy="191.1" r="1.15"/>
<circle cx="643.3" cy="191.3" r="1.15"/>
<circle cx="642.3" cy="190.3" r="1.15"/>
<circle cx="643.8" cy="190.5" r="1.15"/>
<circle cx="642.6" cy="191.1" r="1.15"/>
<circle cx="643.6" cy="190.7" r="1.15"/>
<circle cx="644.1" cy="191.2" r="1.15"/>
<circle cx="641.1" cy="190.7" r="1.15"/>
<circle cx="644.8" cy="190.5" r="1.15"/>
<circle cx="642.3" cy="190.6" r="1.15"/>
<circle cx="642.6" cy="191.0" r="1.15"/>
<circle cx="673.9" cy="191.6" r="1.15"/>
<circle cx="663.0" cy="191.5" r="1.15"/>
<circle cx="675.2" cy="190.3" r="1.15"/>
<circle cx="666.5" cy="189.7" r="1.15"/>
<circle cx="664.2" cy="191.0" r="1.15"/>
<circle cx="664.1" cy="191.1" r="1.15"/>
<circle cx="667.5" cy="189.9" r="1.15"/>
<circle cx="670.5" cy="190.9" r="1.15"/>
<circle cx="665.7" cy="191.1" r="1.15"/>
<circle cx="664.9" cy="191.2" r="1.15"/>
<circle cx="666.7" cy="190.4" r="1.15"/>
<circle cx="665.0" cy="191.1" r="1.15"/>
<circle cx="674.1" cy="190.5" r="1.15"/>
<circle cx="674.7" cy="191.0" r="1.15"/>
<circle cx="674.3" cy="192.6" r="1.15"/>
<circle cx="674.6" cy="190.3" r="1.15"/>
<circle cx="674.2" cy="189.8" r="1.15"/>
<circle cx="674.0" cy="190.0" r="1.15"/>
<circle cx="674.3" cy="190.5" r="1.15"/>
<circle cx="674.7" cy="190.7" r="1.15"/>
<circle cx="649.5" cy="213.0" r="1.15"/>
<circle cx="649.8" cy="211.9" r="1.15"/>
<circle cx="653.1" cy="213.8" r="1.15"/>
<circle cx="650.5" cy="213.6" r="1.15"/>
<circle cx="653.0" cy="213.9" r="1.15"/>
<circle cx="653.6" cy="213.1" r="1.15"/>
<circle cx="648.5" cy="213.5" r="1.15"/>
<circle cx="652.8" cy="214.3" r="1.15"/>
<circle cx="652.2" cy="212.7" r="1.15"/>
<circle cx="651.8" cy="212.3" r="1.15"/>
<circle cx="652.6" cy="213.9" r="1.15"/>
<circle cx="652.1" cy="212.5" r="1.15"/>
<circle cx="652.8" cy="213.7" r="1.15"/>
<circle cx="654.4" cy="212.4" r="1.15"/>
<circle cx="661.7" cy="213.0" r="1.15"/>
<circle cx="663.0" cy="212.8" r="1.15"/>
<circle cx="663.1" cy="213.5" r="1.15"/>
<circle cx="661.2" cy="213.5" r="1.15"/>
<circle cx="665.4" cy="212.5" r="1.15"/>
<circle cx="661.8" cy="212.9" r="1.15"/>
<circle cx="663.8" cy="213.2" r="1.15"/>
<circle cx="660.9" cy="213.3" r="1.15"/>
<circle cx="661.4" cy="213.2" r="1.15"/>
<circle cx="661.5" cy="212.6" r="1.15"/>
<circle cx="662.8" cy="212.6" r="1.15"/>
<circle cx="662.8" cy="212.9" r="1.15"/>
<circle cx="648.9" cy="235.2" r="1.15"/>
<circle cx="663.7" cy="236.2" r="1.15"/>
<circle cx="654.5" cy="235.1" r="1.15"/>
<circle cx="647.8" cy="234.9" r="1.15"/>
<circle cx="645.2" cy="234.9" r="1.15"/>
<circle cx="661.1" cy="234.5" r="1.15"/>
<circle cx="668.7" cy="233.5" r="1.15"/>
<circle cx="673.1" cy="235.0" r="1.15"/>
<circle cx="647.6" cy="234.7" r="1.15"/>
<circle cx="652.9" cy="234.7" r="1.15"/>
<circle cx="653.4" cy="234.2" r="1.15"/>
<circle cx="660.2" cy="235.1" r="1.15"/>
<circle cx="646.6" cy="234.2" r="1.15"/>
<circle cx="672.9" cy="235.2" r="1.15"/>
<circle cx="645.0" cy="234.8" r="1.15"/>
<circle cx="658.9" cy="234.8" r="1.15"/>
<circle cx="673.5" cy="233.8" r="1.15"/>
<circle cx="661.9" cy="235.3" r="1.15"/>
<circle cx="659.2" cy="235.7" r="1.15"/>
<circle cx="657.5" cy="234.9" r="1.15"/>
<circle cx="665.3" cy="234.6" r="1.15"/>
<circle cx="661.8" cy="235.5" r="1.15"/>
<circle cx="666.8" cy="235.6" r="1.15"/>
<circle cx="665.7" cy="234.7" r="1.15"/>
<circle cx="665.9" cy="237.0" r="1.15"/>
<circle cx="661.2" cy="235.9" r="1.15"/>
<circle cx="673.0" cy="236.1" r="1.15"/>
<circle cx="650.7" cy="235.3" r="1.15"/>
<circle cx="658.1" cy="235.3" r="1.15"/>
<circle cx="648.8" cy="234.3" r="1.15"/>
<circle cx="664.6" cy="234.8" r="1.15"/>
<circle cx="674.0" cy="235.1" r="1.15"/>
<circle cx="666.0" cy="235.5" r="1.15"/>
<circle cx="651.4" cy="234.6" r="1.15"/>
<circle cx="663.9" cy="235.9" r="1.15"/>
<circle cx="668.9" cy="234.8" r="1.15"/>
<circle cx="666.3" cy="236.5" r="1.15"/>
<circle cx="668.4" cy="235.9" r="1.15"/>
<circle cx="666.3" cy="233.7" r="1.15"/>
<circle cx="664.5" cy="233.7" r="1.15"/>
<circle cx="666.0" cy="235.2" r="1.15"/>
<circle cx="660.0" cy="234.0" r="1.15"/>
<circle cx="668.4" cy="234.9" r="1.15"/>
<circle cx="667.4" cy="234.9" r="1.15"/>
<circle cx="671.1" cy="235.4" r="1.15"/>
<circle cx="673.4" cy="234.5" r="1.15"/>
<circle cx="672.2" cy="234.9" r="1.15"/>
<circle cx="672.3" cy="234.9" r="1.15"/>
<circle cx="671.8" cy="234.0" r="1.15"/>
<circle cx="675.3" cy="233.6" r="1.15"/>
<circle cx="673.2" cy="234.1" r="1.15"/>
<circle cx="670.6" cy="235.4" r="1.15"/>
</g>
<path d="M657.3 168.9L659.8 166.4L662.3 168.9L659.8 171.4Z" fill="#222" fill-opacity="0.9"/>
<path d="M647.8 190.8L650.3 188.2L652.8 190.8L650.3 193.2Z" fill="#222" fill-opacity="0.9"/>
<path d="M659.9 212.8L662.4 210.3L664.9 212.8L662.4 215.3Z" fill="#222" fill-opacity="0.9"/>
<path d="M663.1 235.0L665.6 232.5L668.1 235.0L665.6 237.5Z" fill="#222" fill-opacity="0.9"/>
<g stroke="#000" stroke-width="1.45"><line x1="657.1" y1="155.6" x2="657.1" y2="247.5"/><line x1="624.3" y1="247.5" x2="679.3" y2="247.5"/>
<line x1="637.6" y1="247.5" x2="637.6" y2="250.7"/>
<line x1="657.1" y1="247.5" x2="657.1" y2="250.7"/>
<line x1="676.5" y1="247.5" x2="676.5" y2="250.7"/>
</g>
<text transform="translate(594.5 149.5) scale(0.92 1)" font-size="13.2px" text-anchor="middle">PC1</text>
<text transform="translate(656.2 149.5) scale(0.92 1)" font-size="13.2px" text-anchor="middle">PC2</text>
<text transform="translate(577.8 260.7) scale(0.92 1)" font-size="13.2px" text-anchor="middle">−1</text>
<text transform="translate(597.0 260.7) scale(0.92 1)" font-size="13.2px" text-anchor="middle">0</text>
<text transform="translate(615.9 260.7) scale(0.92 1)" font-size="13.2px" text-anchor="middle">1</text>
<text transform="translate(638.8 260.7) scale(0.92 1)" font-size="13.2px" text-anchor="middle">−1</text>
<text transform="translate(658.5 260.7) scale(0.92 1)" font-size="13.2px" text-anchor="middle">0</text>
<text transform="translate(677.4 260.7) scale(0.92 1)" font-size="13.2px" text-anchor="middle">1</text>
<text transform="translate(557.9 171.9) scale(0.92 1)" font-size="13.2px" text-anchor="end">GN</text>
<text transform="translate(557.9 194.0) scale(0.92 1)" font-size="13.2px" text-anchor="end">SL</text>
<text transform="translate(557.9 215.5) scale(0.92 1)" font-size="13.2px" text-anchor="end">SSR</text>
<text transform="translate(557.9 237.6) scale(0.92 1)" font-size="13.2px" text-anchor="end">TSW</text>
<text transform="translate(629.4 271.6) scale(0.92 1)" font-size="15.0px" text-anchor="middle">Loadings</text>
<rect x="566.3" y="317.5" width="19.6" height="19.5" fill="#ab2a30"/>
<rect x="566.3" y="339.3" width="3.5" height="19.6" fill="#ab2a30"/>
<rect x="566.3" y="361.2" width="19.0" height="19.7" fill="#ab2a30"/>
<rect x="566.3" y="383.0" width="6.7" height="19.6" fill="#ab2a30"/>
<g stroke="#ab2a30" stroke-width="1.1" stroke-opacity="0.9"><line x1="585.9" y1="327.2" x2="587.6" y2="327.2"/>
<line x1="587.6" y1="317.8" x2="587.6" y2="336.7"/>
</g>
<g stroke="#ab2a30" stroke-width="1.1" stroke-opacity="0.9"><line x1="569.8" y1="349.1" x2="572.5" y2="349.1"/>
<line x1="572.5" y1="339.6" x2="572.5" y2="358.59999999999997"/>
</g>
<g stroke="#ab2a30" stroke-width="1.1" stroke-opacity="0.9"><line x1="585.3" y1="371.0" x2="586.7" y2="371.0"/>
<line x1="586.7" y1="361.5" x2="586.7" y2="380.59999999999997"/>
</g>
<g stroke="#ab2a30" stroke-width="1.1" stroke-opacity="0.6"><line x1="573.0" y1="392.8" x2="575.6" y2="392.8"/>
<line x1="575.6" y1="383.3" x2="575.6" y2="402.3"/>
</g>
<g fill="#000" fill-opacity="0.12">
<circle cx="581.1" cy="326.9" r="1.15"/>
<circle cx="587.1" cy="327.5" r="1.15"/>
<circle cx="582.2" cy="328.2" r="1.15"/>
<circle cx="584.6" cy="326.0" r="1.15"/>
<circle cx="585.0" cy="328.0" r="1.15"/>
<circle cx="587.3" cy="328.1" r="1.15"/>
<circle cx="586.0" cy="327.4" r="1.15"/>
<circle cx="584.0" cy="325.8" r="1.15"/>
<circle cx="585.0" cy="326.7" r="1.15"/>
<circle cx="586.4" cy="327.1" r="1.15"/>
<circle cx="587.9" cy="327.5" r="1.15"/>
<circle cx="586.5" cy="326.3" r="1.15"/>
<circle cx="585.8" cy="327.1" r="1.15"/>
<circle cx="585.5" cy="327.8" r="1.15"/>
<circle cx="588.8" cy="326.8" r="1.15"/>
<circle cx="584.5" cy="327.0" r="1.15"/>
<circle cx="570.0" cy="349.2" r="1.15"/>
<circle cx="567.9" cy="349.4" r="1.15"/>
<circle cx="570.2" cy="349.9" r="1.15"/>
<circle cx="570.5" cy="348.4" r="1.15"/>
<circle cx="572.6" cy="349.6" r="1.15"/>
<circle cx="569.2" cy="349.1" r="1.15"/>
<circle cx="568.1" cy="349.1" r="1.15"/>
<circle cx="569.9" cy="349.0" r="1.15"/>
<circle cx="569.0" cy="348.7" r="1.15"/>
<circle cx="572.2" cy="349.3" r="1.15"/>
<circle cx="569.8" cy="349.1" r="1.15"/>
<circle cx="567.6" cy="349.6" r="1.15"/>
<circle cx="572.3" cy="350.2" r="1.15"/>
<circle cx="570.8" cy="348.4" r="1.15"/>
<circle cx="576.0" cy="349.1" r="1.15"/>
<circle cx="568.0" cy="350.0" r="1.15"/>
<circle cx="573.3" cy="348.4" r="1.15"/>
<circle cx="573.9" cy="350.4" r="1.15"/>
<circle cx="572.0" cy="348.3" r="1.15"/>
<circle cx="568.6" cy="348.8" r="1.15"/>
<circle cx="583.8" cy="371.2" r="1.15"/>
<circle cx="582.6" cy="371.8" r="1.15"/>
<circle cx="582.9" cy="370.7" r="1.15"/>
<circle cx="583.9" cy="370.6" r="1.15"/>
<circle cx="584.5" cy="371.0" r="1.15"/>
<circle cx="583.8" cy="369.9" r="1.15"/>
<circle cx="583.2" cy="371.7" r="1.15"/>
<circle cx="580.1" cy="371.8" r="1.15"/>
<circle cx="584.5" cy="371.9" r="1.15"/>
<circle cx="588.5" cy="371.6" r="1.15"/>
<circle cx="588.1" cy="370.6" r="1.15"/>
<circle cx="587.2" cy="370.9" r="1.15"/>
<circle cx="584.2" cy="370.3" r="1.15"/>
<circle cx="586.0" cy="371.3" r="1.15"/>
<circle cx="584.0" cy="372.7" r="1.15"/>
<circle cx="584.1" cy="370.3" r="1.15"/>
<circle cx="575.6" cy="392.2" r="1.15"/>
<circle cx="577.3" cy="393.3" r="1.15"/>
<circle cx="571.5" cy="393.3" r="1.15"/>
<circle cx="579.1" cy="392.9" r="1.15"/>
<circle cx="572.4" cy="392.4" r="1.15"/>
<circle cx="573.8" cy="392.4" r="1.15"/>
<circle cx="575.0" cy="392.8" r="1.15"/>
<circle cx="576.2" cy="391.5" r="1.15"/>
<circle cx="575.9" cy="393.8" r="1.15"/>
<circle cx="573.4" cy="392.0" r="1.15"/>
<circle cx="572.4" cy="392.3" r="1.15"/>
<circle cx="568.4" cy="392.3" r="1.15"/>
<circle cx="572.8" cy="392.6" r="1.15"/>
<circle cx="577.0" cy="393.1" r="1.15"/>
<circle cx="574.3" cy="392.0" r="1.15"/>
<circle cx="577.9" cy="393.8" r="1.15"/>
<circle cx="572.7" cy="393.4" r="1.15"/>
<circle cx="576.8" cy="392.9" r="1.15"/>
<circle cx="577.2" cy="392.5" r="1.15"/>
<circle cx="576.7" cy="393.4" r="1.15"/>
<circle cx="579.1" cy="392.0" r="1.15"/>
<circle cx="574.8" cy="393.4" r="1.15"/>
</g>
<path d="M582.8 327.2L585.3 324.8L587.8 327.2L585.3 329.8Z" fill="#222" fill-opacity="0.9"/>
<path d="M567.3 349.1L569.8 346.6L572.3 349.1L569.8 351.6Z" fill="#222" fill-opacity="0.9"/>
<path d="M581.4 371.0L583.9 368.5L586.4 371.0L583.9 373.5Z" fill="#222" fill-opacity="0.9"/>
<path d="M570.5 392.8L573.0 390.3L575.5 392.8L573.0 395.3Z" fill="#222" fill-opacity="0.9"/>
<g stroke="#000" stroke-width="1.45"><line x1="566.3" y1="314.0" x2="566.3" y2="406.1"/><line x1="562.6" y1="406.1" x2="617.2" y2="406.1"/>
<line x1="566.3" y1="406.1" x2="566.3" y2="409.3"/>
<line x1="590.6" y1="406.1" x2="590.6" y2="409.3"/>
<line x1="615.2" y1="406.1" x2="615.2" y2="409.3"/>
</g>
<rect x="627.6" y="317.5" width="3.3" height="19.5" fill="#ab2a30"/>
<rect x="627.6" y="339.3" width="31.5" height="19.6" fill="#ab2a30"/>
<rect x="627.6" y="361.2" width="8.3" height="19.7" fill="#ab2a30"/>
<rect x="627.6" y="383.0" width="7.4" height="19.6" fill="#ab2a30"/>
<g stroke="#ab2a30" stroke-width="1.1" stroke-opacity="0.9"><line x1="659.1" y1="349.1" x2="670.5" y2="349.1"/>
<line x1="670.5" y1="339.6" x2="670.5" y2="358.59999999999997"/>
</g>
<g stroke="#ab2a30" stroke-width="1.1" stroke-opacity="0.6"><line x1="635.0" y1="392.8" x2="649.5" y2="392.8"/>
<line x1="649.5" y1="383.3" x2="649.5" y2="402.3"/>
<line x1="626.3" y1="383.3" x2="626.3" y2="402.3"/>
</g>
<g fill="#000" fill-opacity="0.12">
<circle cx="631.5" cy="328.1" r="1.15"/>
<circle cx="634.0" cy="328.3" r="1.15"/>
<circle cx="629.9" cy="325.6" r="1.15"/>
<circle cx="632.2" cy="326.6" r="1.15"/>
<circle cx="631.0" cy="327.2" r="1.15"/>
<circle cx="627.5" cy="327.2" r="1.15"/>
<circle cx="628.0" cy="328.0" r="1.15"/>
<circle cx="629.2" cy="328.1" r="1.15"/>
<circle cx="631.9" cy="326.8" r="1.15"/>
<circle cx="632.3" cy="327.8" r="1.15"/>
<circle cx="629.6" cy="326.8" r="1.15"/>
<circle cx="630.7" cy="327.0" r="1.15"/>
<circle cx="630.4" cy="327.4" r="1.15"/>
<circle cx="626.1" cy="327.7" r="1.15"/>
<circle cx="650.2" cy="350.0" r="1.15"/>
<circle cx="643.4" cy="348.7" r="1.15"/>
<circle cx="630.2" cy="349.9" r="1.15"/>
<circle cx="657.6" cy="349.4" r="1.15"/>
<circle cx="646.5" cy="348.2" r="1.15"/>
<circle cx="659.7" cy="348.1" r="1.15"/>
<circle cx="637.8" cy="349.2" r="1.15"/>
<circle cx="654.2" cy="349.9" r="1.15"/>
<circle cx="641.7" cy="348.4" r="1.15"/>
<circle cx="645.4" cy="347.5" r="1.15"/>
<circle cx="643.6" cy="349.8" r="1.15"/>
<circle cx="638.1" cy="350.0" r="1.15"/>
<circle cx="639.2" cy="348.9" r="1.15"/>
<circle cx="658.9" cy="349.9" r="1.15"/>
<circle cx="656.0" cy="350.6" r="1.15"/>
<circle cx="658.8" cy="348.5" r="1.15"/>
<circle cx="636.6" cy="348.8" r="1.15"/>
<circle cx="634.0" cy="348.8" r="1.15"/>
<circle cx="653.5" cy="349.9" r="1.15"/>
<circle cx="636.0" cy="348.5" r="1.15"/>
<circle cx="672.0" cy="349.4" r="1.15"/>
<circle cx="665.9" cy="348.4" r="1.15"/>
<circle cx="670.3" cy="348.2" r="1.15"/>
<circle cx="670.2" cy="347.9" r="1.15"/>
<circle cx="669.9" cy="349.0" r="1.15"/>
<circle cx="661.5" cy="349.8" r="1.15"/>
<circle cx="672.1" cy="349.5" r="1.15"/>
<circle cx="664.0" cy="347.7" r="1.15"/>
<circle cx="672.3" cy="349.4" r="1.15"/>
<circle cx="670.8" cy="349.2" r="1.15"/>
<circle cx="673.3" cy="349.0" r="1.15"/>
<circle cx="662.2" cy="349.3" r="1.15"/>
<circle cx="664.0" cy="349.6" r="1.15"/>
<circle cx="674.0" cy="350.1" r="1.15"/>
<circle cx="674.8" cy="348.2" r="1.15"/>
<circle cx="675.4" cy="349.8" r="1.15"/>
<circle cx="674.1" cy="348.4" r="1.15"/>
<circle cx="673.0" cy="348.7" r="1.15"/>
<circle cx="674.9" cy="350.0" r="1.15"/>
<circle cx="631.8" cy="371.3" r="1.15"/>
<circle cx="635.4" cy="371.3" r="1.15"/>
<circle cx="634.5" cy="371.2" r="1.15"/>
<circle cx="632.8" cy="372.1" r="1.15"/>
<circle cx="634.7" cy="370.7" r="1.15"/>
<circle cx="634.4" cy="370.8" r="1.15"/>
<circle cx="633.4" cy="370.2" r="1.15"/>
<circle cx="631.7" cy="369.4" r="1.15"/>
<circle cx="634.9" cy="371.6" r="1.15"/>
<circle cx="632.4" cy="371.4" r="1.15"/>
<circle cx="633.0" cy="372.2" r="1.15"/>
<circle cx="634.1" cy="370.0" r="1.15"/>
<circle cx="632.9" cy="370.5" r="1.15"/>
<circle cx="633.7" cy="370.7" r="1.15"/>
<circle cx="635.4" cy="371.3" r="1.15"/>
<circle cx="636.3" cy="370.3" r="1.15"/>
<circle cx="636.1" cy="371.3" r="1.15"/>
<circle cx="628.2" cy="370.3" r="1.15"/>
<circle cx="640.2" cy="371.2" r="1.15"/>
<circle cx="637.8" cy="371.6" r="1.15"/>
<circle cx="633.2" cy="393.2" r="1.15"/>
<circle cx="662.0" cy="392.4" r="1.15"/>
<circle cx="673.8" cy="392.3" r="1.15"/>
<circle cx="670.1" cy="393.1" r="1.15"/>
<circle cx="674.2" cy="392.3" r="1.15"/>
<circle cx="632.7" cy="393.8" r="1.15"/>
<circle cx="672.1" cy="392.3" r="1.15"/>
<circle cx="646.8" cy="393.0" r="1.15"/>
<circle cx="638.1" cy="391.3" r="1.15"/>
<circle cx="647.3" cy="393.1" r="1.15"/>
<circle cx="632.1" cy="392.3" r="1.15"/>
<circle cx="642.3" cy="393.0" r="1.15"/>
<circle cx="655.8" cy="393.6" r="1.15"/>
<circle cx="628.4" cy="392.7" r="1.15"/>
<circle cx="635.9" cy="390.9" r="1.15"/>
<circle cx="636.2" cy="391.3" r="1.15"/>
<circle cx="662.4" cy="392.8" r="1.15"/>
<circle cx="667.8" cy="392.1" r="1.15"/>
<circle cx="654.3" cy="391.9" r="1.15"/>
<circle cx="671.9" cy="393.5" r="1.15"/>
<circle cx="633.7" cy="392.6" r="1.15"/>
<circle cx="672.7" cy="393.5" r="1.15"/>
<circle cx="667.7" cy="393.4" r="1.15"/>
<circle cx="635.1" cy="392.5" r="1.15"/>
<circle cx="645.7" cy="392.9" r="1.15"/>
<circle cx="643.8" cy="391.9" r="1.15"/>
<circle cx="643.0" cy="393.1" r="1.15"/>
<circle cx="669.5" cy="392.7" r="1.15"/>
<circle cx="638.2" cy="393.9" r="1.15"/>
<circle cx="643.8" cy="393.4" r="1.15"/>
<circle cx="637.0" cy="392.6" r="1.15"/>
<circle cx="658.3" cy="392.3" r="1.15"/>
<circle cx="655.3" cy="392.6" r="1.15"/>
<circle cx="669.3" cy="392.8" r="1.15"/>
<circle cx="667.2" cy="393.3" r="1.15"/>
<circle cx="673.1" cy="393.5" r="1.15"/>
<circle cx="649.4" cy="391.9" r="1.15"/>
<circle cx="641.9" cy="392.0" r="1.15"/>
<circle cx="660.9" cy="393.0" r="1.15"/>
<circle cx="636.8" cy="391.9" r="1.15"/>
<circle cx="647.9" cy="392.2" r="1.15"/>
<circle cx="653.5" cy="392.6" r="1.15"/>
<circle cx="640.4" cy="392.6" r="1.15"/>
<circle cx="662.5" cy="392.6" r="1.15"/>
<circle cx="640.1" cy="392.9" r="1.15"/>
<circle cx="659.8" cy="393.4" r="1.15"/>
<circle cx="644.0" cy="392.3" r="1.15"/>
<circle cx="646.4" cy="392.6" r="1.15"/>
<circle cx="643.5" cy="393.1" r="1.15"/>
<circle cx="648.3" cy="392.9" r="1.15"/>
<circle cx="664.2" cy="392.2" r="1.15"/>
<circle cx="659.2" cy="391.9" r="1.15"/>
<circle cx="648.2" cy="393.2" r="1.15"/>
<circle cx="664.9" cy="392.0" r="1.15"/>
<circle cx="643.5" cy="393.1" r="1.15"/>
<circle cx="648.5" cy="392.0" r="1.15"/>
</g>
<path d="M626.2 327.2L628.7 324.8L631.2 327.2L628.7 329.8Z" fill="#222" fill-opacity="0.9"/>
<path d="M655.4 349.1L657.9 346.6L660.4 349.1L657.9 351.6Z" fill="#222" fill-opacity="0.9"/>
<path d="M629.9 371.0L632.4 368.5L634.9 371.0L632.4 373.5Z" fill="#222" fill-opacity="0.9"/>
<path d="M635.5 392.8L638.0 390.3L640.5 392.8L638.0 395.3Z" fill="#222" fill-opacity="0.9"/>
<g stroke="#000" stroke-width="1.45"><line x1="627.6" y1="314.0" x2="627.6" y2="406.1"/><line x1="624.3" y1="406.1" x2="679.0" y2="406.1"/>
<line x1="627.6" y1="406.1" x2="627.6" y2="409.3"/>
<line x1="652.0" y1="406.1" x2="652.0" y2="409.3"/>
<line x1="676.6" y1="406.1" x2="676.6" y2="409.3"/>
</g>
<text transform="translate(593.9 308) scale(0.92 1)" font-size="15.5px" text-anchor="middle">PC1</text>
<text transform="translate(655.6 308) scale(0.92 1)" font-size="15.5px" text-anchor="middle">PC2</text>
<text transform="translate(567.4 420.7) scale(0.92 1)" font-size="13.2px" text-anchor="middle">0</text>
<text transform="translate(588.4 420.7) scale(0.92 1)" font-size="13.2px" text-anchor="middle">50</text>
<text transform="translate(610.0 420.7) scale(0.92 1)" font-size="13.2px" text-anchor="middle">100</text>
<text transform="translate(631.4 420.7) scale(0.92 1)" font-size="13.2px" text-anchor="middle">0</text>
<text transform="translate(650.6 420.7) scale(0.92 1)" font-size="13.2px" text-anchor="middle">50</text>
<text transform="translate(677.0 420.7) scale(0.92 1)" font-size="13.2px" text-anchor="middle">100</text>
<text transform="translate(556.6 330.1) scale(0.92 1)" font-size="13.2px" text-anchor="end">GN</text>
<text transform="translate(556.6 352.2) scale(0.92 1)" font-size="13.2px" text-anchor="end">SL</text>
<text transform="translate(556.6 373.8) scale(0.92 1)" font-size="13.2px" text-anchor="end">SSR</text>
<text transform="translate(556.6 395.9) scale(0.92 1)" font-size="13.2px" text-anchor="end">TSW</text>
<text transform="translate(618.0 437.7) scale(0.92 1)" font-size="13.75px" text-anchor="middle">Contribution (%)</text>
</g></svg></body></html>
